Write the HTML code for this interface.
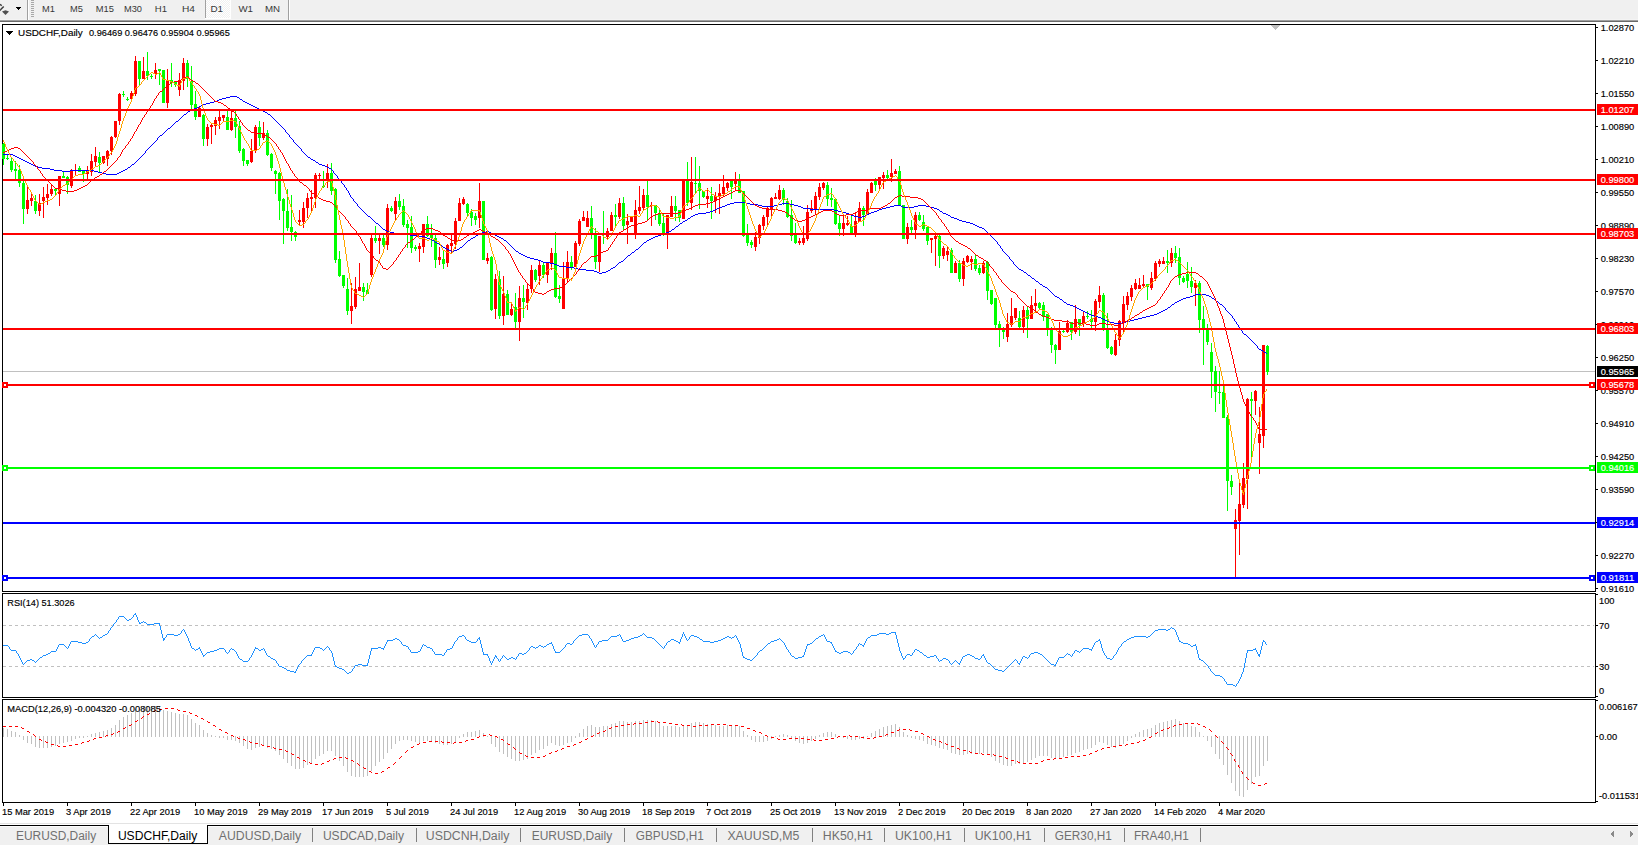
<!DOCTYPE html>
<html><head><meta charset="utf-8"><title>USDCHF,Daily</title>
<style>html,body{margin:0;padding:0;background:#fff;width:1638px;height:846px;overflow:hidden}svg{display:block;position:absolute;left:0;top:0}text{font-family:"Liberation Sans",sans-serif;white-space:pre;stroke-width:0.15px}text[fill="#000"]{stroke:#000}text[fill="#fff"]{stroke:#fff}</style></head>
<body>
<svg width="1638" height="846" viewBox="0 0 1638 846">
<rect x="0" y="0" width="1638" height="846" fill="#fff"/>
<g shape-rendering="crispEdges">
<rect x="0" y="0" width="1638" height="20" fill="#f0f0f0"/>
<rect x="0" y="19" width="1638" height="1" fill="#f4f4f4"/>
<rect x="0" y="20" width="1638" height="1" fill="#a0a0a0"/>
<rect x="0" y="21" width="1638" height="1" fill="#696969"/>
<rect x="27" y="0" width="1" height="20" fill="#a0a0a0"/><rect x="28" y="0" width="1" height="20" fill="#fff"/>
<rect x="31" y="0" width="3" height="1" fill="#a8a8a8"/>
<rect x="31" y="2" width="3" height="1" fill="#a8a8a8"/>
<rect x="31" y="4" width="3" height="1" fill="#a8a8a8"/>
<rect x="31" y="6" width="3" height="1" fill="#a8a8a8"/>
<rect x="31" y="8" width="3" height="1" fill="#a8a8a8"/>
<rect x="31" y="10" width="3" height="1" fill="#a8a8a8"/>
<rect x="31" y="12" width="3" height="1" fill="#a8a8a8"/>
<rect x="31" y="14" width="3" height="1" fill="#a8a8a8"/>
<rect x="31" y="16" width="3" height="1" fill="#a8a8a8"/>
<defs><pattern id="dz" width="2" height="2" patternUnits="userSpaceOnUse"><rect width="2" height="2" fill="#f0f0f0"/><rect width="1" height="1" fill="#fff"/><rect x="1" y="1" width="1" height="1" fill="#fff"/></pattern></defs>
<rect x="206" y="0" width="24" height="18" fill="url(#dz)"/><rect x="205" y="0" width="1" height="18" fill="#a0a0a0"/><rect x="230" y="0" width="1" height="19" fill="#fff"/><rect x="205" y="18" width="26" height="1" fill="#fff"/>
<rect x="288" y="0" width="1" height="20" fill="#a0a0a0"/><rect x="289" y="0" width="1" height="20" fill="#fff"/>
<path d="M16 7h5v1h-5zM17 8h3v1h-3zM18 9h1v1h-1z" fill="#000"/>
</g>
<path d="M-1 11.3 L3.7 6.5" stroke="#3a3a3a" stroke-width="1.5" fill="none"/><path d="M-0.2 4.2 L1.8 5.6" stroke="#3a3a3a" stroke-width="1.3" fill="none"/>
<path d="M2 11.5 L5.5 10.2 L9 11.5 L5.5 15 Z" fill="#505050"/>
<text x="42.1" y="12" font-size="9.6" fill="#383838" textLength="12.9" lengthAdjust="spacingAndGlyphs">M1</text>
<text x="70.10000000000001" y="12" font-size="9.6" fill="#383838" textLength="12.9" lengthAdjust="spacingAndGlyphs">M5</text>
<text x="95.80000000000001" y="12" font-size="9.6" fill="#383838" textLength="18.2" lengthAdjust="spacingAndGlyphs">M15</text>
<text x="124.0" y="12" font-size="9.6" fill="#383838" textLength="18.0" lengthAdjust="spacingAndGlyphs">M30</text>
<text x="154.8" y="12" font-size="9.6" fill="#383838" textLength="12.2" lengthAdjust="spacingAndGlyphs">H1</text>
<text x="182.0" y="12" font-size="9.6" fill="#383838" textLength="13.0" lengthAdjust="spacingAndGlyphs">H4</text>
<text x="210.4" y="12" font-size="9.6" fill="#383838" textLength="12.6" lengthAdjust="spacingAndGlyphs">D1</text>
<text x="238.4" y="12" font-size="9.6" fill="#383838" textLength="14.6" lengthAdjust="spacingAndGlyphs">W1</text>
<text x="264.9" y="12" font-size="9.6" fill="#383838" textLength="15.1" lengthAdjust="spacingAndGlyphs">MN</text>
<g shape-rendering="crispEdges" fill="#000">
<rect x="2" y="24" width="1" height="779"/>
<rect x="1595" y="24" width="1" height="779"/>
<rect x="2" y="24" width="1594" height="1"/>
<rect x="2" y="591" width="1594" height="1"/>
<rect x="2" y="592" width="1594" height="1" fill="#fff"/>
<rect x="2" y="593" width="1594" height="1"/>
<rect x="2" y="697" width="1594" height="1"/>
<rect x="2" y="698" width="1594" height="1" fill="#fff"/>
<rect x="2" y="699" width="1594" height="1"/>
<rect x="2" y="802" width="1594" height="1"/>
</g>
<path d="M1271 25h9v1h-9zM1272 26h7v1h-7zM1273 27h5v1h-5zM1274 28h3v1h-3zM1275 29h1v1h-1z" fill="#c0c0c0" shape-rendering="crispEdges"/>
<rect x="3" y="371" width="1592" height="1" fill="#c0c0c0" shape-rendering="crispEdges"/>
<g shape-rendering="crispEdges">
<path d="M27 185h1v29h-1zM26 200h3v9h-3zM31 194h1v12h-1zM30 198h3v3h-3zM39 194h1v22h-1zM38 203h3v8h-3zM43 187h1v31h-1zM42 197h3v4h-3zM47 184h1v21h-1zM46 194h3v4h-3zM51 185h1v11h-1zM50 189h3v5h-3zM59 176h1v30h-1zM58 176h3v18h-3zM71 169h1v19h-1zM70 170h3v16h-3zM75 164h1v11h-1zM74 170h3v1h-3zM87 166h1v13h-1zM86 171h3v3h-3zM91 154h1v22h-1zM90 161h3v11h-3zM95 147h1v19h-1zM94 156h3v6h-3zM103 156h1v8h-1zM102 156h3v7h-3zM107 150h1v16h-1zM106 151h3v8h-3zM111 136h1v19h-1zM110 137h3v14h-3zM115 121h1v17h-1zM114 121h3v16h-3zM119 93h1v32h-1zM118 94h3v27h-3zM131 91h1v8h-1zM130 93h3v6h-3zM135 56h1v40h-1zM134 61h3v33h-3zM143 57h1v22h-1zM142 71h3v8h-3zM155 63h1v16h-1zM154 70h3v4h-3zM167 69h1v39h-1zM166 81h3v22h-3zM179 73h1v23h-1zM178 80h3v10h-3zM183 58h1v32h-1zM182 63h3v18h-3zM199 107h1v10h-1zM198 108h3v9h-3zM207 124h1v22h-1zM206 127h3v12h-3zM211 124h1v20h-1zM210 125h3v2h-3zM215 117h1v18h-1zM214 120h3v6h-3zM219 110h1v19h-1zM218 117h3v4h-3zM223 115h1v6h-1zM222 115h3v3h-3zM231 110h1v21h-1zM230 118h3v12h-3zM251 139h1v24h-1zM250 151h3v11h-3zM255 125h1v28h-1zM254 127h3v24h-3zM263 122h1v18h-1zM262 133h3v5h-3zM299 210h1v15h-1zM298 220h3v2h-3zM303 202h1v26h-1zM302 208h3v14h-3zM307 193h1v25h-1zM306 198h3v10h-3zM311 190h1v21h-1zM310 197h3v2h-3zM315 173h1v35h-1zM314 175h3v23h-3zM319 173h1v6h-1zM318 175h3v1h-3zM327 164h1v24h-1zM326 173h3v8h-3zM351 283h1v41h-1zM350 306h3v5h-3zM355 277h1v32h-1zM354 289h3v18h-3zM359 263h1v28h-1zM358 287h3v4h-3zM371 234h1v43h-1zM370 238h3v37h-3zM379 235h1v19h-1zM378 238h3v3h-3zM387 204h1v46h-1zM386 208h3v37h-3zM395 197h1v23h-1zM394 201h3v13h-3zM419 243h1v19h-1zM418 246h3v3h-3zM423 224h1v29h-1zM422 224h3v23h-3zM439 247h1v18h-1zM438 257h3v3h-3zM447 244h1v23h-1zM446 245h3v18h-3zM451 235h1v18h-1zM450 243h3v3h-3zM455 218h1v31h-1zM454 221h3v23h-3zM459 198h1v23h-1zM458 203h3v18h-3zM463 197h1v8h-1zM462 199h3v5h-3zM479 183h1v45h-1zM478 201h3v17h-3zM487 253h1v11h-1zM486 258h3v3h-3zM495 274h1v45h-1zM494 279h3v30h-3zM503 276h1v49h-1zM502 294h3v22h-3zM511 304h1v12h-1zM510 309h3v6h-3zM519 286h1v55h-1zM518 298h3v24h-3zM527 283h1v27h-1zM526 289h3v14h-3zM531 265h1v28h-1zM530 270h3v19h-3zM539 260h1v25h-1zM538 265h3v11h-3zM547 262h1v21h-1zM546 262h3v13h-3zM551 248h1v22h-1zM550 253h3v10h-3zM563 262h1v47h-1zM562 279h3v30h-3zM567 251h1v32h-1zM566 262h3v17h-3zM575 241h1v26h-1zM574 243h3v24h-3zM579 219h1v27h-1zM578 221h3v23h-3zM583 211h1v10h-1zM582 217h3v4h-3zM587 211h1v16h-1zM586 218h3v9h-3zM599 236h1v36h-1zM598 236h3v26h-3zM607 228h1v12h-1zM606 231h3v6h-3zM611 212h1v19h-1zM610 215h3v16h-3zM619 198h1v21h-1zM618 203h3v14h-3zM627 214h1v30h-1zM626 221h3v4h-3zM631 216h1v6h-1zM630 216h3v6h-3zM635 200h1v39h-1zM634 210h3v24h-3zM639 186h1v28h-1zM638 207h3v4h-3zM643 189h1v21h-1zM642 195h3v13h-3zM651 202h1v24h-1zM650 205h3v1h-3zM667 215h1v34h-1zM666 215h3v17h-3zM671 196h1v21h-1zM670 206h3v11h-3zM683 180h1v39h-1zM682 180h3v39h-3zM691 157h1v53h-1zM690 182h3v21h-3zM707 188h1v20h-1zM706 196h3v3h-3zM715 192h1v21h-1zM714 196h3v5h-3zM719 184h1v30h-1zM718 193h3v3h-3zM723 175h1v21h-1zM722 187h3v7h-3zM727 182h1v9h-1zM726 183h3v5h-3zM735 172h1v18h-1zM734 180h3v4h-3zM755 232h1v19h-1zM754 237h3v10h-3zM759 224h1v20h-1zM758 225h3v13h-3zM763 215h1v15h-1zM762 217h3v9h-3zM767 207h1v19h-1zM766 208h3v9h-3zM771 197h1v19h-1zM770 198h3v11h-3zM775 193h1v6h-1zM774 197h3v2h-3zM779 185h1v15h-1zM778 190h3v9h-3zM799 238h1v7h-1zM798 241h3v2h-3zM803 226h1v19h-1zM802 238h3v5h-3zM807 205h1v36h-1zM806 212h3v27h-3zM811 200h1v13h-1zM810 208h3v3h-3zM815 192h1v22h-1zM814 196h3v13h-3zM819 183h1v17h-1zM818 187h3v10h-3zM823 182h1v8h-1zM822 183h3v5h-3zM843 216h1v20h-1zM842 223h3v6h-3zM847 216h1v10h-1zM846 223h3v2h-3zM855 212h1v25h-1zM854 221h3v12h-3zM859 202h1v20h-1zM858 208h3v14h-3zM867 189h1v26h-1zM866 192h3v22h-3zM871 182h1v11h-1zM870 183h3v10h-3zM879 177h1v12h-1zM878 177h3v8h-3zM883 172h1v17h-1zM882 175h3v3h-3zM891 159h1v23h-1zM890 173h3v4h-3zM895 169h1v5h-1zM894 171h3v3h-3zM907 223h1v21h-1zM906 227h3v12h-3zM915 212h1v27h-1zM914 215h3v15h-3zM931 238h1v15h-1zM930 238h3v2h-3zM935 233h1v33h-1zM934 236h3v3h-3zM943 246h1v13h-1zM942 248h3v8h-3zM947 247h1v14h-1zM946 251h3v4h-3zM955 261h1v12h-1zM954 263h3v10h-3zM963 258h1v28h-1zM962 261h3v18h-3zM967 255h1v8h-1zM966 256h3v6h-3zM971 256h1v14h-1zM970 259h3v3h-3zM983 261h1v13h-1zM982 263h3v10h-3zM1007 313h1v29h-1zM1006 324h3v13h-3zM1011 298h1v29h-1zM1010 316h3v9h-3zM1015 308h1v12h-1zM1014 308h3v10h-3zM1023 306h1v27h-1zM1022 310h3v17h-3zM1031 296h1v23h-1zM1030 305h3v14h-3zM1035 289h1v22h-1zM1034 303h3v3h-3zM1059 322h1v28h-1zM1058 331h3v19h-3zM1067 320h1v13h-1zM1066 323h3v9h-3zM1075 305h1v29h-1zM1074 319h3v13h-3zM1083 312h1v15h-1zM1082 316h3v7h-3zM1095 299h1v32h-1zM1094 301h3v21h-3zM1099 286h1v22h-1zM1098 295h3v7h-3zM1115 334h1v22h-1zM1114 340h3v15h-3zM1119 320h1v26h-1zM1118 321h3v19h-3zM1123 296h1v36h-1zM1122 304h3v19h-3zM1127 292h1v18h-1zM1126 296h3v9h-3zM1131 285h1v16h-1zM1130 288h3v9h-3zM1135 279h1v11h-1zM1134 283h3v6h-3zM1139 278h1v11h-1zM1138 285h3v4h-3zM1143 275h1v12h-1zM1142 284h3v2h-3zM1151 272h1v18h-1zM1150 278h3v10h-3zM1155 261h1v20h-1zM1154 263h3v16h-3zM1159 259h1v8h-1zM1158 261h3v3h-3zM1163 257h1v7h-1zM1162 261h3v3h-3zM1171 248h1v19h-1zM1170 253h3v10h-3zM1195 280h1v26h-1zM1194 283h3v5h-3zM1235 509h1v68h-1zM1234 520h3v9h-3zM1239 483h1v72h-1zM1238 504h3v17h-3zM1243 463h1v45h-1zM1242 478h3v27h-3zM1247 398h1v111h-1zM1246 399h3v80h-3zM1255 390h1v25h-1zM1254 391h3v10h-3zM1259 407h1v67h-1zM1258 434h3v9h-3zM1263 345h1v103h-1zM1262 345h3v91h-3z" fill="#ff0000"/>
<path d="M3 143h1v22h-1zM2 144h3v15h-3zM7 155h1v5h-1zM6 158h3v1h-3zM11 158h1v14h-1zM10 161h3v9h-3zM15 161h1v18h-1zM14 169h3v2h-3zM19 165h1v22h-1zM18 170h3v13h-3zM23 181h1v43h-1zM22 183h3v26h-3zM35 195h1v19h-1zM34 201h3v10h-3zM55 189h1v7h-1zM54 189h3v2h-3zM63 171h1v7h-1zM62 176h3v2h-3zM67 176h1v18h-1zM66 177h3v8h-3zM79 166h1v6h-1zM78 168h3v4h-3zM83 170h1v12h-1zM82 171h3v3h-3zM99 152h1v20h-1zM98 157h3v6h-3zM123 91h1v6h-1zM122 94h3v1h-3zM127 97h1v4h-1zM126 99h3v1h-3zM139 61h1v24h-1zM138 61h3v18h-3zM147 52h1v28h-1zM146 71h3v5h-3zM151 74h1v5h-1zM150 76h3v1h-3zM159 69h1v16h-1zM158 69h3v2h-3zM163 70h1v33h-1zM162 70h3v33h-3zM171 63h1v24h-1zM170 80h3v3h-3zM175 81h1v6h-1zM174 82h3v3h-3zM187 60h1v27h-1zM186 63h3v16h-3zM191 66h1v43h-1zM190 81h3v24h-3zM195 91h1v29h-1zM194 104h3v13h-3zM203 114h1v32h-1zM202 115h3v24h-3zM227 110h1v20h-1zM226 117h3v13h-3zM235 111h1v27h-1zM234 118h3v9h-3zM239 121h1v32h-1zM238 126h3v25h-3zM243 148h1v18h-1zM242 149h3v12h-3zM247 160h1v6h-1zM246 160h3v4h-3zM259 121h1v25h-1zM258 127h3v11h-3zM267 130h1v26h-1zM266 133h3v22h-3zM271 153h1v18h-1zM270 154h3v14h-3zM275 170h1v24h-1zM274 171h3v3h-3zM279 172h1v48h-1zM278 173h3v28h-3zM283 198h1v46h-1zM282 199h3v12h-3zM287 189h1v42h-1zM286 211h3v17h-3zM291 195h1v46h-1zM290 227h3v5h-3zM295 231h1v10h-1zM294 232h3v5h-3zM323 171h1v17h-1zM322 186h3v1h-3zM331 163h1v32h-1zM330 173h3v18h-3zM335 188h1v75h-1zM334 189h3v71h-3zM339 251h1v26h-1zM338 259h3v17h-3zM343 275h1v13h-1zM342 275h3v11h-3zM347 278h1v37h-1zM346 289h3v22h-3zM363 283h1v18h-1zM362 287h3v5h-3zM367 283h1v11h-1zM366 290h3v4h-3zM375 226h1v17h-1zM374 238h3v3h-3zM383 235h1v12h-1zM382 238h3v7h-3zM391 206h1v6h-1zM390 208h3v3h-3zM399 194h1v16h-1zM398 201h3v6h-3zM403 199h1v28h-1zM402 206h3v19h-3zM407 220h1v28h-1zM406 224h3v4h-3zM411 216h1v37h-1zM410 227h3v21h-3zM415 245h1v6h-1zM414 247h3v2h-3zM427 216h1v21h-1zM426 224h3v12h-3zM431 224h1v23h-1zM430 234h3v4h-3zM435 235h1v33h-1zM434 238h3v22h-3zM443 251h1v18h-1zM442 259h3v5h-3zM467 203h1v13h-1zM466 204h3v9h-3zM471 209h1v17h-1zM470 212h3v6h-3zM475 213h1v12h-1zM474 216h3v4h-3zM483 201h1v59h-1zM482 201h3v59h-3zM491 256h1v55h-1zM490 257h3v53h-3zM499 271h1v48h-1zM498 279h3v37h-3zM507 290h1v25h-1zM506 294h3v21h-3zM515 293h1v35h-1zM514 307h3v15h-3zM523 285h1v33h-1zM522 298h3v4h-3zM535 269h1v13h-1zM534 270h3v10h-3zM543 262h1v16h-1zM542 265h3v10h-3zM555 232h1v66h-1zM554 253h3v44h-3zM559 285h1v18h-1zM558 296h3v3h-3zM571 256h1v14h-1zM570 262h3v5h-3zM591 206h1v33h-1zM590 218h3v15h-3zM595 228h1v41h-1zM594 234h3v28h-3zM603 211h1v33h-1zM602 233h3v1h-3zM615 204h1v22h-1zM614 215h3v2h-3zM623 197h1v33h-1zM622 203h3v23h-3zM647 181h1v39h-1zM646 195h3v12h-3zM655 205h1v15h-1zM654 205h3v8h-3zM659 210h1v16h-1zM658 213h3v11h-3zM663 213h1v23h-1zM662 223h3v10h-3zM675 196h1v25h-1zM674 206h3v5h-3zM679 210h1v12h-1zM678 210h3v8h-3zM687 162h1v44h-1zM686 180h3v23h-3zM695 157h1v36h-1zM694 183h3v1h-3zM699 166h1v43h-1zM698 183h3v8h-3zM703 191h1v7h-1zM702 191h3v6h-3zM711 187h1v32h-1zM710 196h3v5h-3zM731 180h1v19h-1zM730 181h3v6h-3zM739 174h1v19h-1zM738 181h3v12h-3zM743 191h1v46h-1zM742 191h3v45h-3zM747 224h1v22h-1zM746 235h3v8h-3zM751 240h1v8h-1zM750 242h3v3h-3zM783 188h1v17h-1zM782 190h3v10h-3zM787 198h1v20h-1zM786 201h3v16h-3zM791 200h1v41h-1zM790 215h3v21h-3zM795 223h1v21h-1zM794 235h3v8h-3zM827 182h1v24h-1zM826 185h3v14h-3zM831 188h1v19h-1zM830 198h3v2h-3zM835 199h1v26h-1zM834 199h3v25h-3zM839 216h1v20h-1zM838 223h3v6h-3zM851 216h1v17h-1zM850 226h3v7h-3zM863 206h1v20h-1zM862 208h3v7h-3zM875 178h1v13h-1zM874 181h3v4h-3zM887 170h1v9h-1zM886 175h3v3h-3zM899 166h1v40h-1zM898 171h3v35h-3zM903 205h1v34h-1zM902 205h3v34h-3zM911 220h1v13h-1zM910 227h3v3h-3zM919 212h1v9h-1zM918 215h3v5h-3zM923 215h1v16h-1zM922 222h3v7h-3zM927 227h1v18h-1zM926 227h3v14h-3zM939 235h1v33h-1zM938 236h3v20h-3zM951 248h1v25h-1zM950 250h3v23h-3zM959 260h1v22h-1zM958 263h3v16h-3zM975 255h1v16h-1zM974 259h3v10h-3zM979 265h1v10h-1zM978 268h3v5h-3zM987 261h1v39h-1zM986 262h3v29h-3zM991 290h1v15h-1zM990 290h3v14h-3zM995 298h1v30h-1zM994 298h3v27h-3zM999 321h1v26h-1zM998 324h3v4h-3zM1003 327h1v12h-1zM1002 330h3v2h-3zM1019 311h1v17h-1zM1018 318h3v9h-3zM1027 306h1v32h-1zM1026 310h3v9h-3zM1039 302h1v7h-1zM1038 303h3v5h-3zM1043 302h1v19h-1zM1042 305h3v12h-3zM1047 314h1v22h-1zM1046 314h3v14h-3zM1051 327h1v26h-1zM1050 328h3v17h-3zM1055 344h1v20h-1zM1054 345h3v5h-3zM1063 330h1v3h-1zM1062 331h3v1h-3zM1071 322h1v18h-1zM1070 322h3v10h-3zM1079 319h1v17h-1zM1078 319h3v6h-3zM1087 311h1v8h-1zM1086 316h3v1h-3zM1091 310h1v18h-1zM1090 319h3v3h-3zM1103 293h1v38h-1zM1102 295h3v33h-3zM1107 313h1v36h-1zM1106 328h3v20h-3zM1111 346h1v9h-1zM1110 347h3v7h-3zM1147 284h1v16h-1zM1146 284h3v3h-3zM1167 250h1v23h-1zM1166 261h3v2h-3zM1175 246h1v17h-1zM1174 253h3v5h-3zM1179 248h1v37h-1zM1178 257h3v21h-3zM1183 276h1v7h-1zM1182 278h3v4h-3zM1187 262h1v26h-1zM1186 274h3v7h-3zM1191 267h1v26h-1zM1190 281h3v6h-3zM1199 281h1v52h-1zM1198 283h3v37h-3zM1203 306h1v59h-1zM1202 319h3v9h-3zM1207 324h1v21h-1zM1206 330h3v12h-3zM1211 343h1v55h-1zM1210 352h3v20h-3zM1215 366h1v46h-1zM1214 371h3v21h-3zM1219 371h1v33h-1zM1218 392h3v1h-3zM1223 386h1v32h-1zM1222 392h3v26h-3zM1227 415h1v96h-1zM1226 417h3v64h-3zM1231 475h1v20h-1zM1230 481h3v6h-3zM1251 392h1v65h-1zM1250 399h3v2h-3zM1267 345h1v30h-1zM1266 346h3v26h-3z" fill="#00ff00"/>
</g>
<path d="M230 96h7v1h-7zM226 97h4v1h-4zM237 97h2v1h-2zM222 98h4v1h-4zM239 98h1v1h-1zM219 99h3v1h-3zM240 99h2v1h-2zM217 100h2v1h-2zM242 100h1v1h-1zM214 101h3v1h-3zM243 101h2v1h-2zM210 102h4v1h-4zM245 102h2v1h-2zM206 103h4v1h-4zM247 103h2v1h-2zM203 104h3v1h-3zM249 104h2v1h-2zM201 105h2v1h-2zM251 105h2v1h-2zM199 106h2v1h-2zM253 106h2v1h-2zM197 107h2v1h-2zM255 107h2v1h-2zM194 108h3v1h-3zM257 108h2v1h-2zM191 109h3v1h-3zM259 109h2v1h-2zM190 110h1v1h-1zM261 110h2v1h-2zM188 111h2v1h-2zM263 111h2v1h-2zM187 112h1v1h-1zM265 112h2v1h-2zM186 113h1v1h-1zM267 113h1v1h-1zM184 114h2v1h-2zM268 114h2v1h-2zM183 115h1v1h-1zM270 115h1v1h-1zM182 116h1v1h-1zM271 116h1v1h-1zM181 117h1v1h-1zM272 117h1v1h-1zM180 118h1v1h-1zM273 118h1v1h-1zM179 119h1v1h-1zM274 119h1v1h-1zM178 120h1v1h-1zM275 120h1v1h-1zM176 121h2v1h-2zM276 121h1v1h-1zM175 122h1v1h-1zM277 122h1v1h-1zM174 123h1v1h-1zM278 123h1v1h-1zM173 124h1v1h-1zM279 124h1v1h-1zM172 125h1v1h-1zM280 125h1v1h-1zM171 126h1v1h-1zM281 126h1v1h-1zM170 127h1v1h-1zM282 127h1v1h-1zM168 128h2v1h-2zM283 128h1v1h-1zM167 129h1v1h-1zM284 129h1v1h-1zM166 130h1v1h-1zM285 130h1v2h-1zM165 131h1v1h-1zM164 132h1v1h-1zM286 132h1v1h-1zM163 133h1v1h-1zM287 133h1v1h-1zM162 134h1v1h-1zM288 134h1v1h-1zM160 135h2v1h-2zM289 135h1v2h-1zM159 136h1v1h-1zM158 137h1v1h-1zM290 137h1v1h-1zM157 138h1v2h-1zM291 138h1v1h-1zM292 139h1v1h-1zM156 140h1v1h-1zM293 140h1v2h-1zM155 141h1v1h-1zM154 142h1v1h-1zM294 142h1v1h-1zM153 143h1v1h-1zM295 143h1v1h-1zM152 144h1v1h-1zM296 144h1v1h-1zM151 145h1v1h-1zM297 145h1v1h-1zM150 146h1v1h-1zM298 146h1v1h-1zM149 147h1v1h-1zM299 147h1v1h-1zM148 148h1v1h-1zM300 148h1v1h-1zM147 149h1v1h-1zM301 149h1v2h-1zM146 150h1v1h-1zM145 151h1v2h-1zM302 151h1v1h-1zM303 152h1v1h-1zM144 153h1v1h-1zM304 153h1v1h-1zM3 154h10v1h-10zM143 154h1v1h-1zM305 154h1v1h-1zM13 155h2v1h-2zM142 155h1v1h-1zM306 155h1v1h-1zM15 156h2v1h-2zM141 156h1v1h-1zM307 156h1v1h-1zM17 157h2v1h-2zM140 157h1v1h-1zM308 157h2v1h-2zM19 158h2v1h-2zM139 158h1v1h-1zM310 158h1v1h-1zM21 159h2v1h-2zM138 159h1v1h-1zM311 159h2v1h-2zM23 160h2v1h-2zM137 160h1v1h-1zM313 160h2v1h-2zM25 161h2v1h-2zM136 161h1v1h-1zM315 161h1v1h-1zM27 162h2v1h-2zM135 162h1v1h-1zM316 162h2v1h-2zM29 163h2v1h-2zM134 163h1v1h-1zM318 163h1v1h-1zM31 164h2v1h-2zM132 164h2v1h-2zM319 164h3v1h-3zM33 165h2v1h-2zM131 165h1v1h-1zM322 165h3v1h-3zM35 166h3v1h-3zM130 166h1v1h-1zM325 166h2v1h-2zM38 167h4v1h-4zM128 167h2v1h-2zM327 167h2v1h-2zM42 168h8v1h-8zM127 168h1v1h-1zM329 168h2v1h-2zM50 169h4v1h-4zM125 169h2v1h-2zM331 169h1v1h-1zM54 170h8v1h-8zM70 170h24v1h-24zM123 170h2v1h-2zM332 170h1v1h-1zM62 171h8v1h-8zM94 171h4v1h-4zM121 171h2v1h-2zM333 171h1v2h-1zM98 172h4v1h-4zM119 172h2v1h-2zM102 173h4v1h-4zM117 173h2v1h-2zM334 173h1v1h-1zM106 174h11v1h-11zM335 174h1v1h-1zM336 175h1v1h-1zM337 176h1v2h-1zM338 178h1v1h-1zM339 179h1v1h-1zM340 180h1v1h-1zM341 181h1v2h-1zM342 183h1v1h-1zM343 184h1v1h-1zM344 185h1v2h-1zM345 187h1v1h-1zM346 188h1v2h-1zM347 190h1v1h-1zM348 191h1v2h-1zM349 193h1v2h-1zM350 195h1v2h-1zM351 197h1v1h-1zM352 198h1v1h-1zM353 199h1v2h-1zM354 201h1v1h-1zM355 202h1v1h-1zM734 202h12v1h-12zM356 203h1v1h-1zM730 203h4v1h-4zM746 203h4v1h-4zM782 203h8v1h-8zM357 204h1v2h-1zM727 204h3v1h-3zM750 204h8v1h-8zM778 204h4v1h-4zM790 204h4v1h-4zM725 205h2v1h-2zM758 205h4v1h-4zM774 205h4v1h-4zM794 205h4v1h-4zM894 205h7v1h-7zM918 205h8v1h-8zM358 206h1v1h-1zM722 206h3v1h-3zM762 206h12v1h-12zM798 206h3v1h-3zM890 206h4v1h-4zM901 206h2v1h-2zM914 206h4v1h-4zM926 206h4v1h-4zM359 207h1v1h-1zM719 207h3v1h-3zM801 207h2v1h-2zM886 207h4v1h-4zM903 207h11v1h-11zM930 207h4v1h-4zM360 208h1v1h-1zM717 208h2v1h-2zM803 208h7v1h-7zM882 208h4v1h-4zM934 208h3v1h-3zM361 209h1v1h-1zM715 209h2v1h-2zM810 209h24v1h-24zM879 209h3v1h-3zM937 209h2v1h-2zM362 210h1v1h-1zM713 210h2v1h-2zM834 210h4v1h-4zM877 210h2v1h-2zM939 210h1v1h-1zM363 211h1v1h-1zM710 211h3v1h-3zM838 211h4v1h-4zM874 211h3v1h-3zM940 211h2v1h-2zM364 212h1v1h-1zM706 212h4v1h-4zM842 212h4v1h-4zM871 212h3v1h-3zM942 212h1v1h-1zM365 213h1v1h-1zM698 213h8v1h-8zM846 213h3v1h-3zM869 213h2v1h-2zM943 213h3v1h-3zM366 214h1v1h-1zM695 214h3v1h-3zM849 214h2v1h-2zM867 214h2v1h-2zM946 214h2v1h-2zM367 215h1v1h-1zM693 215h2v1h-2zM851 215h3v1h-3zM865 215h2v1h-2zM948 215h2v1h-2zM368 216h2v1h-2zM691 216h2v1h-2zM854 216h4v1h-4zM862 216h3v1h-3zM950 216h1v1h-1zM370 217h1v1h-1zM690 217h1v1h-1zM858 217h4v1h-4zM951 217h3v1h-3zM371 218h1v1h-1zM688 218h2v1h-2zM954 218h3v1h-3zM372 219h1v1h-1zM687 219h1v1h-1zM957 219h2v1h-2zM373 220h1v1h-1zM685 220h2v1h-2zM959 220h3v1h-3zM374 221h1v1h-1zM683 221h2v1h-2zM962 221h4v1h-4zM375 222h1v1h-1zM682 222h1v1h-1zM966 222h4v1h-4zM376 223h2v1h-2zM680 223h2v1h-2zM970 223h3v1h-3zM378 224h1v1h-1zM679 224h1v1h-1zM973 224h2v1h-2zM379 225h1v1h-1zM678 225h1v1h-1zM975 225h2v1h-2zM380 226h1v1h-1zM676 226h2v1h-2zM977 226h2v1h-2zM381 227h1v1h-1zM675 227h1v1h-1zM979 227h3v1h-3zM382 228h1v1h-1zM674 228h1v1h-1zM982 228h2v1h-2zM383 229h2v1h-2zM672 229h2v1h-2zM984 229h1v1h-1zM385 230h2v1h-2zM671 230h1v1h-1zM985 230h1v1h-1zM387 231h3v1h-3zM486 231h3v1h-3zM669 231h2v1h-2zM986 231h1v1h-1zM390 232h4v1h-4zM482 232h4v1h-4zM489 232h2v1h-2zM666 232h3v1h-3zM987 232h1v1h-1zM394 233h4v1h-4zM479 233h3v1h-3zM491 233h2v1h-2zM663 233h3v1h-3zM988 233h1v1h-1zM398 234h12v1h-12zM478 234h1v1h-1zM493 234h2v1h-2zM661 234h2v1h-2zM989 234h1v1h-1zM410 235h8v1h-8zM476 235h2v1h-2zM495 235h2v1h-2zM658 235h3v1h-3zM990 235h1v1h-1zM418 236h7v1h-7zM475 236h1v1h-1zM497 236h2v1h-2zM655 236h3v1h-3zM991 236h1v1h-1zM425 237h2v1h-2zM473 237h2v1h-2zM499 237h2v1h-2zM653 237h2v1h-2zM992 237h1v1h-1zM427 238h3v1h-3zM471 238h2v1h-2zM501 238h2v1h-2zM651 238h2v1h-2zM993 238h1v1h-1zM430 239h2v1h-2zM470 239h1v1h-1zM503 239h1v1h-1zM649 239h2v1h-2zM994 239h1v1h-1zM432 240h2v1h-2zM468 240h2v1h-2zM504 240h2v1h-2zM647 240h2v1h-2zM995 240h1v1h-1zM434 241h1v1h-1zM467 241h1v1h-1zM506 241h1v1h-1zM646 241h1v1h-1zM996 241h1v1h-1zM435 242h2v1h-2zM466 242h1v1h-1zM507 242h1v1h-1zM644 242h2v1h-2zM997 242h1v2h-1zM437 243h2v1h-2zM465 243h1v1h-1zM508 243h1v1h-1zM643 243h1v1h-1zM439 244h1v1h-1zM464 244h1v1h-1zM509 244h1v1h-1zM642 244h1v1h-1zM998 244h1v1h-1zM440 245h2v1h-2zM463 245h1v1h-1zM510 245h1v1h-1zM641 245h1v1h-1zM999 245h1v1h-1zM442 246h1v1h-1zM462 246h1v1h-1zM511 246h1v1h-1zM640 246h1v1h-1zM1000 246h1v2h-1zM443 247h2v1h-2zM460 247h2v1h-2zM512 247h1v1h-1zM639 247h1v1h-1zM445 248h2v1h-2zM459 248h1v1h-1zM513 248h1v1h-1zM638 248h1v1h-1zM1001 248h1v1h-1zM447 249h2v1h-2zM457 249h2v1h-2zM514 249h1v1h-1zM636 249h2v1h-2zM1002 249h1v2h-1zM449 250h2v1h-2zM454 250h3v1h-3zM515 250h1v1h-1zM635 250h1v1h-1zM451 251h3v1h-3zM516 251h2v1h-2zM634 251h1v1h-1zM1003 251h1v1h-1zM518 252h1v1h-1zM632 252h2v1h-2zM1004 252h1v1h-1zM519 253h2v1h-2zM631 253h1v1h-1zM1005 253h1v1h-1zM521 254h2v1h-2zM630 254h1v1h-1zM1006 254h1v1h-1zM523 255h2v1h-2zM628 255h2v1h-2zM1007 255h1v1h-1zM525 256h2v1h-2zM627 256h1v1h-1zM1008 256h1v1h-1zM527 257h3v1h-3zM626 257h1v1h-1zM1009 257h1v2h-1zM530 258h4v1h-4zM625 258h1v1h-1zM534 259h4v1h-4zM624 259h1v1h-1zM1010 259h1v1h-1zM538 260h3v1h-3zM623 260h1v1h-1zM1011 260h1v1h-1zM541 261h2v1h-2zM621 261h2v1h-2zM1012 261h1v1h-1zM543 262h7v1h-7zM619 262h2v1h-2zM1013 262h1v2h-1zM550 263h4v1h-4zM618 263h1v1h-1zM554 264h3v1h-3zM617 264h1v1h-1zM1014 264h1v1h-1zM557 265h2v1h-2zM616 265h1v1h-1zM1015 265h1v1h-1zM559 266h7v1h-7zM615 266h1v1h-1zM1016 266h1v1h-1zM566 267h8v1h-8zM613 267h2v1h-2zM1017 267h1v1h-1zM574 268h4v1h-4zM611 268h2v1h-2zM1018 268h1v1h-1zM578 269h8v1h-8zM610 269h1v1h-1zM1019 269h2v1h-2zM586 270h8v1h-8zM608 270h2v1h-2zM1021 270h2v1h-2zM594 271h3v1h-3zM606 271h2v1h-2zM1023 271h1v1h-1zM597 272h2v1h-2zM602 272h4v1h-4zM1024 272h2v1h-2zM599 273h3v1h-3zM1026 273h1v1h-1zM1027 274h1v1h-1zM1028 275h2v1h-2zM1030 276h1v1h-1zM1031 277h1v1h-1zM1032 278h2v1h-2zM1034 279h1v1h-1zM1035 280h1v1h-1zM1036 281h2v1h-2zM1038 282h1v1h-1zM1039 283h1v1h-1zM1040 284h2v1h-2zM1042 285h1v1h-1zM1043 286h2v1h-2zM1045 287h2v1h-2zM1047 288h1v1h-1zM1048 289h1v1h-1zM1049 290h1v1h-1zM1050 291h1v1h-1zM1051 292h1v1h-1zM1052 293h1v1h-1zM1053 294h1v1h-1zM1195 294h11v1h-11zM1054 295h1v1h-1zM1193 295h2v1h-2zM1206 295h3v1h-3zM1055 296h2v1h-2zM1190 296h3v1h-3zM1209 296h2v1h-2zM1057 297h2v1h-2zM1186 297h4v1h-4zM1211 297h1v1h-1zM1059 298h1v1h-1zM1183 298h3v1h-3zM1212 298h2v1h-2zM1060 299h2v1h-2zM1181 299h2v1h-2zM1214 299h1v1h-1zM1062 300h1v1h-1zM1179 300h2v1h-2zM1215 300h1v1h-1zM1063 301h1v1h-1zM1177 301h2v1h-2zM1216 301h2v1h-2zM1064 302h2v1h-2zM1175 302h2v1h-2zM1218 302h1v1h-1zM1066 303h1v1h-1zM1174 303h1v1h-1zM1219 303h1v1h-1zM1067 304h3v1h-3zM1172 304h2v1h-2zM1220 304h2v1h-2zM1070 305h3v1h-3zM1171 305h1v1h-1zM1222 305h1v1h-1zM1073 306h2v1h-2zM1170 306h1v1h-1zM1223 306h1v1h-1zM1075 307h2v1h-2zM1168 307h2v1h-2zM1224 307h1v1h-1zM1077 308h2v1h-2zM1167 308h1v1h-1zM1225 308h1v2h-1zM1079 309h2v1h-2zM1165 309h2v1h-2zM1081 310h2v1h-2zM1163 310h2v1h-2zM1226 310h1v1h-1zM1083 311h2v1h-2zM1161 311h2v1h-2zM1227 311h1v1h-1zM1085 312h2v1h-2zM1159 312h2v1h-2zM1228 312h1v1h-1zM1087 313h2v1h-2zM1157 313h2v1h-2zM1229 313h1v1h-1zM1089 314h2v1h-2zM1154 314h3v1h-3zM1230 314h1v1h-1zM1091 315h3v1h-3zM1150 315h4v1h-4zM1231 315h1v1h-1zM1094 316h4v1h-4zM1146 316h4v1h-4zM1232 316h1v2h-1zM1098 317h3v1h-3zM1142 317h4v1h-4zM1101 318h2v1h-2zM1138 318h4v1h-4zM1233 318h1v1h-1zM1103 319h2v1h-2zM1134 319h4v1h-4zM1234 319h1v2h-1zM1105 320h2v1h-2zM1130 320h4v1h-4zM1107 321h3v1h-3zM1126 321h4v1h-4zM1235 321h1v1h-1zM1110 322h4v1h-4zM1122 322h4v1h-4zM1236 322h1v2h-1zM1114 323h8v1h-8zM1237 324h1v1h-1zM1238 325h1v2h-1zM1239 327h1v1h-1zM1240 328h1v2h-1zM1241 330h1v1h-1zM1242 331h1v2h-1zM1243 333h1v1h-1zM1244 334h2v1h-2zM1246 335h1v1h-1zM1247 336h1v1h-1zM1248 337h1v1h-1zM1249 338h1v1h-1zM1250 339h1v1h-1zM1251 340h1v1h-1zM1252 341h1v1h-1zM1253 342h1v1h-1zM1254 343h1v1h-1zM1255 344h1v1h-1zM1256 345h1v1h-1zM1257 346h1v2h-1zM1258 348h1v1h-1zM1259 349h2v1h-2zM1261 350h2v1h-2zM1263 351h1v1h-1zM1264 352h2v1h-2zM1266 353h1v1h-1z" fill="#0000ff" shape-rendering="crispEdges"/>
<path d="M187 76h1v1h-1zM185 77h2v1h-2zM188 77h1v1h-1zM183 78h2v1h-2zM189 78h1v1h-1zM181 79h2v1h-2zM190 79h1v1h-1zM178 80h3v1h-3zM191 80h2v1h-2zM174 81h4v1h-4zM193 81h2v1h-2zM171 82h3v1h-3zM195 82h1v1h-1zM170 83h1v1h-1zM196 83h2v1h-2zM168 84h2v1h-2zM198 84h1v1h-1zM167 85h1v1h-1zM199 85h1v1h-1zM166 86h1v1h-1zM200 86h1v1h-1zM165 87h1v1h-1zM201 87h1v1h-1zM164 88h1v1h-1zM202 88h1v1h-1zM163 89h1v1h-1zM203 89h1v1h-1zM162 90h1v1h-1zM204 90h1v1h-1zM160 91h2v1h-2zM205 91h1v1h-1zM159 92h1v1h-1zM206 92h1v1h-1zM158 93h1v2h-1zM207 93h1v1h-1zM208 94h1v1h-1zM157 95h1v1h-1zM209 95h1v1h-1zM156 96h1v2h-1zM210 96h1v1h-1zM211 97h1v1h-1zM155 98h1v1h-1zM212 98h1v1h-1zM154 99h1v2h-1zM213 99h1v1h-1zM214 100h1v1h-1zM153 101h1v2h-1zM215 101h3v1h-3zM218 102h3v1h-3zM152 103h1v2h-1zM221 103h2v1h-2zM223 104h1v1h-1zM151 105h1v1h-1zM224 105h2v1h-2zM150 106h1v2h-1zM226 106h1v1h-1zM227 107h1v1h-1zM149 108h1v1h-1zM228 108h2v1h-2zM148 109h1v2h-1zM230 109h1v1h-1zM231 110h1v1h-1zM147 111h1v1h-1zM232 111h2v1h-2zM146 112h1v2h-1zM234 112h1v1h-1zM235 113h1v1h-1zM145 114h1v1h-1zM236 114h1v2h-1zM144 115h1v2h-1zM237 116h1v1h-1zM143 117h1v1h-1zM238 117h1v2h-1zM142 118h1v2h-1zM239 119h1v1h-1zM141 120h1v2h-1zM240 120h1v2h-1zM140 122h1v2h-1zM241 122h1v1h-1zM242 123h1v2h-1zM139 124h1v1h-1zM138 125h1v2h-1zM243 125h1v1h-1zM244 126h1v1h-1zM137 127h1v2h-1zM245 127h1v1h-1zM246 128h1v1h-1zM136 129h1v2h-1zM247 129h1v1h-1zM248 130h2v1h-2zM135 131h1v1h-1zM250 131h1v1h-1zM134 132h1v2h-1zM251 132h3v1h-3zM254 133h8v1h-8zM133 134h1v2h-1zM262 134h3v1h-3zM265 135h2v1h-2zM132 136h1v2h-1zM267 136h1v1h-1zM268 137h2v1h-2zM131 138h1v1h-1zM270 138h1v1h-1zM130 139h1v2h-1zM271 139h1v1h-1zM272 140h1v1h-1zM129 141h1v1h-1zM273 141h1v1h-1zM128 142h1v2h-1zM274 142h1v1h-1zM275 143h1v1h-1zM127 144h1v1h-1zM276 144h1v2h-1zM126 145h1v1h-1zM125 146h1v2h-1zM277 146h1v1h-1zM14 147h4v1h-4zM278 147h1v2h-1zM11 148h3v1h-3zM18 148h2v1h-2zM124 148h1v1h-1zM9 149h2v1h-2zM20 149h1v1h-1zM123 149h1v1h-1zM279 149h1v1h-1zM7 150h2v1h-2zM21 150h1v1h-1zM122 150h1v2h-1zM280 150h1v2h-1zM5 151h2v1h-2zM22 151h1v1h-1zM3 152h2v1h-2zM23 152h1v1h-1zM121 152h1v2h-1zM281 152h1v1h-1zM24 153h1v1h-1zM282 153h1v2h-1zM25 154h1v1h-1zM120 154h1v2h-1zM26 155h1v1h-1zM283 155h1v2h-1zM27 156h1v1h-1zM119 156h1v1h-1zM28 157h1v1h-1zM118 157h1v1h-1zM284 157h1v2h-1zM29 158h1v1h-1zM117 158h1v2h-1zM30 159h1v1h-1zM285 159h1v2h-1zM31 160h1v1h-1zM116 160h1v1h-1zM32 161h1v1h-1zM115 161h1v1h-1zM286 161h1v2h-1zM33 162h1v2h-1zM114 162h1v1h-1zM113 163h1v1h-1zM287 163h1v1h-1zM34 164h1v1h-1zM112 164h1v1h-1zM288 164h1v2h-1zM35 165h1v1h-1zM111 165h1v1h-1zM36 166h1v1h-1zM110 166h1v1h-1zM289 166h1v2h-1zM37 167h1v2h-1zM109 167h1v1h-1zM108 168h1v1h-1zM290 168h1v2h-1zM38 169h1v1h-1zM107 169h1v1h-1zM39 170h1v1h-1zM106 170h1v1h-1zM291 170h1v1h-1zM40 171h1v2h-1zM104 171h2v1h-2zM292 171h1v2h-1zM103 172h1v1h-1zM41 173h1v1h-1zM102 173h1v1h-1zM293 173h1v1h-1zM42 174h1v2h-1zM100 174h2v1h-2zM294 174h1v2h-1zM99 175h1v1h-1zM43 176h1v1h-1zM97 176h2v1h-2zM295 176h1v1h-1zM44 177h1v1h-1zM95 177h2v1h-2zM296 177h1v1h-1zM45 178h1v1h-1zM94 178h1v1h-1zM297 178h1v2h-1zM46 179h1v1h-1zM92 179h2v1h-2zM47 180h1v1h-1zM91 180h1v1h-1zM298 180h1v1h-1zM48 181h1v1h-1zM90 181h1v1h-1zM299 181h1v1h-1zM49 182h1v1h-1zM89 182h1v1h-1zM300 182h2v1h-2zM50 183h1v1h-1zM88 183h1v1h-1zM302 183h1v1h-1zM51 184h1v1h-1zM87 184h1v1h-1zM303 184h1v1h-1zM52 185h1v1h-1zM85 185h2v1h-2zM304 185h2v1h-2zM53 186h1v1h-1zM83 186h2v1h-2zM306 186h1v1h-1zM54 187h1v1h-1zM81 187h2v1h-2zM307 187h1v1h-1zM55 188h3v1h-3zM79 188h2v1h-2zM308 188h1v1h-1zM58 189h4v1h-4zM77 189h2v1h-2zM309 189h1v2h-1zM62 190h4v1h-4zM74 190h3v1h-3zM735 190h5v1h-5zM66 191h8v1h-8zM310 191h1v1h-1zM733 191h2v1h-2zM740 191h2v1h-2zM311 192h1v1h-1zM731 192h2v1h-2zM742 192h1v1h-1zM312 193h2v1h-2zM729 193h2v1h-2zM743 193h1v1h-1zM314 194h1v1h-1zM727 194h2v1h-2zM744 194h1v1h-1zM315 195h1v1h-1zM725 195h2v1h-2zM745 195h1v1h-1zM899 195h3v1h-3zM316 196h2v1h-2zM723 196h2v1h-2zM746 196h1v1h-1zM897 196h2v1h-2zM902 196h8v1h-8zM318 197h1v1h-1zM721 197h2v1h-2zM747 197h1v1h-1zM895 197h2v1h-2zM910 197h8v1h-8zM319 198h2v1h-2zM719 198h2v1h-2zM748 198h1v1h-1zM894 198h1v1h-1zM918 198h3v1h-3zM321 199h2v1h-2zM717 199h2v1h-2zM749 199h1v1h-1zM893 199h1v1h-1zM921 199h2v1h-2zM323 200h3v1h-3zM715 200h2v1h-2zM750 200h1v1h-1zM892 200h1v1h-1zM923 200h1v1h-1zM326 201h4v1h-4zM713 201h2v1h-2zM751 201h1v1h-1zM891 201h1v1h-1zM924 201h1v1h-1zM330 202h2v1h-2zM710 202h3v1h-3zM752 202h1v1h-1zM890 202h1v1h-1zM925 202h1v1h-1zM332 203h1v1h-1zM706 203h4v1h-4zM753 203h1v1h-1zM888 203h2v1h-2zM926 203h1v1h-1zM333 204h1v1h-1zM698 204h8v1h-8zM754 204h1v1h-1zM887 204h1v1h-1zM927 204h1v1h-1zM334 205h1v1h-1zM695 205h3v1h-3zM755 205h2v1h-2zM885 205h2v1h-2zM928 205h1v1h-1zM335 206h1v1h-1zM693 206h2v1h-2zM757 206h2v1h-2zM883 206h2v1h-2zM929 206h1v1h-1zM336 207h1v1h-1zM691 207h2v1h-2zM759 207h3v1h-3zM881 207h2v1h-2zM930 207h1v1h-1zM337 208h1v2h-1zM689 208h2v1h-2zM762 208h4v1h-4zM870 208h11v1h-11zM931 208h1v1h-1zM686 209h3v1h-3zM766 209h12v1h-12zM866 209h4v1h-4zM932 209h1v1h-1zM338 210h1v1h-1zM683 210h3v1h-3zM778 210h4v1h-4zM823 210h9v1h-9zM859 210h7v1h-7zM933 210h1v1h-1zM339 211h1v1h-1zM681 211h2v1h-2zM782 211h3v1h-3zM821 211h2v1h-2zM832 211h2v1h-2zM857 211h2v1h-2zM934 211h1v1h-1zM340 212h1v1h-1zM678 212h3v1h-3zM785 212h2v1h-2zM819 212h2v1h-2zM834 212h1v1h-1zM855 212h2v1h-2zM935 212h1v1h-1zM341 213h1v1h-1zM658 213h20v1h-20zM787 213h1v1h-1zM817 213h2v1h-2zM835 213h2v1h-2zM853 213h2v1h-2zM936 213h1v2h-1zM342 214h1v1h-1zM655 214h3v1h-3zM788 214h1v1h-1zM815 214h2v1h-2zM837 214h2v1h-2zM846 214h7v1h-7zM343 215h1v1h-1zM653 215h2v1h-2zM789 215h1v1h-1zM813 215h2v1h-2zM839 215h7v1h-7zM937 215h1v1h-1zM344 216h1v1h-1zM651 216h2v1h-2zM790 216h1v1h-1zM811 216h2v1h-2zM938 216h1v2h-1zM345 217h1v2h-1zM650 217h1v1h-1zM791 217h1v1h-1zM809 217h2v1h-2zM649 218h1v1h-1zM792 218h2v1h-2zM807 218h2v1h-2zM939 218h1v1h-1zM346 219h1v1h-1zM648 219h1v1h-1zM794 219h1v1h-1zM805 219h2v1h-2zM940 219h1v1h-1zM347 220h1v1h-1zM647 220h1v1h-1zM795 220h3v1h-3zM802 220h3v1h-3zM941 220h1v2h-1zM348 221h1v2h-1zM645 221h2v1h-2zM798 221h4v1h-4zM642 222h3v1h-3zM942 222h1v1h-1zM349 223h1v1h-1zM638 223h4v1h-4zM943 223h1v1h-1zM350 224h1v2h-1zM634 224h4v1h-4zM944 224h1v2h-1zM631 225h3v1h-3zM351 226h1v1h-1zM629 226h2v1h-2zM945 226h1v1h-1zM352 227h1v1h-1zM627 227h2v1h-2zM946 227h1v2h-1zM353 228h1v1h-1zM426 228h7v1h-7zM626 228h1v1h-1zM354 229h1v1h-1zM423 229h3v1h-3zM433 229h2v1h-2zM479 229h2v1h-2zM624 229h2v1h-2zM947 229h1v1h-1zM355 230h1v1h-1zM422 230h1v1h-1zM435 230h3v1h-3zM477 230h2v1h-2zM481 230h2v1h-2zM623 230h1v1h-1zM948 230h1v2h-1zM356 231h1v2h-1zM421 231h1v2h-1zM438 231h2v1h-2zM475 231h2v1h-2zM483 231h2v1h-2zM621 231h2v1h-2zM440 232h1v1h-1zM473 232h2v1h-2zM485 232h2v1h-2zM619 232h2v1h-2zM949 232h1v2h-1zM357 233h1v1h-1zM420 233h1v1h-1zM441 233h1v1h-1zM471 233h2v1h-2zM487 233h1v1h-1zM618 233h1v2h-1zM358 234h1v2h-1zM419 234h1v1h-1zM442 234h1v1h-1zM469 234h2v1h-2zM488 234h2v1h-2zM950 234h1v2h-1zM418 235h1v1h-1zM443 235h2v1h-2zM467 235h2v1h-2zM490 235h1v1h-1zM617 235h1v1h-1zM359 236h1v1h-1zM416 236h2v1h-2zM445 236h2v1h-2zM466 236h1v1h-1zM491 236h2v1h-2zM616 236h1v2h-1zM951 236h1v1h-1zM360 237h1v2h-1zM415 237h1v1h-1zM447 237h1v1h-1zM464 237h2v1h-2zM493 237h2v1h-2zM952 237h1v1h-1zM414 238h1v1h-1zM448 238h2v1h-2zM463 238h1v1h-1zM495 238h1v1h-1zM615 238h1v1h-1zM953 238h1v1h-1zM361 239h1v2h-1zM412 239h2v1h-2zM450 239h1v1h-1zM461 239h2v1h-2zM496 239h2v1h-2zM614 239h1v2h-1zM954 239h1v1h-1zM411 240h1v1h-1zM451 240h3v1h-3zM458 240h3v1h-3zM498 240h1v1h-1zM955 240h1v1h-1zM362 241h1v2h-1zM410 241h1v1h-1zM454 241h4v1h-4zM499 241h1v1h-1zM613 241h1v1h-1zM956 241h2v1h-2zM408 242h2v1h-2zM500 242h1v1h-1zM612 242h1v2h-1zM958 242h1v1h-1zM363 243h1v1h-1zM407 243h1v1h-1zM501 243h1v1h-1zM959 243h2v1h-2zM364 244h1v2h-1zM406 244h1v1h-1zM502 244h1v1h-1zM611 244h1v1h-1zM961 244h2v1h-2zM405 245h1v2h-1zM503 245h1v1h-1zM610 245h1v2h-1zM963 245h2v1h-2zM365 246h1v2h-1zM504 246h1v1h-1zM965 246h2v1h-2zM404 247h1v1h-1zM505 247h1v2h-1zM609 247h1v1h-1zM967 247h1v1h-1zM366 248h1v2h-1zM403 248h1v1h-1zM608 248h1v2h-1zM968 248h2v1h-2zM402 249h1v2h-1zM506 249h1v1h-1zM970 249h1v1h-1zM367 250h1v1h-1zM507 250h1v1h-1zM606 250h2v1h-2zM971 250h1v1h-1zM368 251h1v1h-1zM401 251h1v1h-1zM508 251h1v2h-1zM603 251h3v1h-3zM972 251h1v1h-1zM369 252h1v1h-1zM400 252h1v2h-1zM601 252h2v1h-2zM973 252h1v1h-1zM370 253h1v1h-1zM509 253h1v1h-1zM599 253h2v1h-2zM974 253h1v1h-1zM371 254h1v1h-1zM399 254h1v1h-1zM510 254h1v2h-1zM598 254h1v1h-1zM975 254h1v1h-1zM372 255h1v1h-1zM398 255h1v2h-1zM596 255h2v1h-2zM976 255h2v1h-2zM373 256h1v2h-1zM511 256h1v2h-1zM591 256h5v1h-5zM978 256h1v1h-1zM397 257h1v1h-1zM590 257h1v1h-1zM979 257h2v1h-2zM374 258h1v1h-1zM396 258h1v2h-1zM512 258h1v2h-1zM589 258h1v1h-1zM981 258h2v1h-2zM375 259h1v1h-1zM588 259h1v1h-1zM983 259h1v1h-1zM376 260h2v1h-2zM395 260h1v1h-1zM513 260h1v2h-1zM587 260h1v1h-1zM984 260h2v1h-2zM378 261h1v1h-1zM394 261h1v1h-1zM586 261h1v1h-1zM986 261h1v1h-1zM379 262h1v1h-1zM393 262h1v2h-1zM514 262h1v2h-1zM584 262h2v1h-2zM987 262h1v1h-1zM380 263h1v2h-1zM583 263h1v1h-1zM988 263h1v1h-1zM392 264h1v1h-1zM515 264h1v2h-1zM582 264h1v1h-1zM989 264h1v2h-1zM381 265h1v1h-1zM391 265h1v1h-1zM581 265h1v2h-1zM382 266h1v2h-1zM390 266h1v1h-1zM516 266h1v2h-1zM990 266h1v1h-1zM389 267h1v1h-1zM580 267h1v1h-1zM991 267h1v1h-1zM383 268h3v1h-3zM388 268h1v1h-1zM517 268h1v2h-1zM579 268h1v1h-1zM992 268h1v1h-1zM386 269h2v1h-2zM578 269h1v2h-1zM993 269h1v2h-1zM518 270h1v2h-1zM577 271h1v1h-1zM994 271h1v1h-1zM519 272h1v1h-1zM576 272h1v2h-1zM995 272h1v1h-1zM1186 272h10v1h-10zM520 273h1v2h-1zM996 273h1v2h-1zM1182 273h4v1h-4zM1196 273h2v1h-2zM575 274h1v1h-1zM1179 274h3v1h-3zM1198 274h1v1h-1zM521 275h1v1h-1zM574 275h1v1h-1zM997 275h1v1h-1zM1177 275h2v1h-2zM1199 275h1v1h-1zM522 276h1v2h-1zM573 276h1v1h-1zM998 276h1v2h-1zM1175 276h2v1h-2zM1200 276h2v1h-2zM572 277h1v1h-1zM1174 277h1v1h-1zM1202 277h1v1h-1zM523 278h1v1h-1zM571 278h1v1h-1zM999 278h1v1h-1zM1173 278h1v1h-1zM1203 278h1v1h-1zM524 279h1v1h-1zM570 279h1v1h-1zM1000 279h1v1h-1zM1172 279h1v1h-1zM1204 279h1v1h-1zM525 280h1v2h-1zM569 280h1v1h-1zM1001 280h1v2h-1zM1171 280h1v1h-1zM1205 280h1v1h-1zM568 281h1v1h-1zM1170 281h1v2h-1zM1206 281h1v1h-1zM526 282h1v1h-1zM567 282h1v1h-1zM1002 282h1v1h-1zM1207 282h1v2h-1zM527 283h1v1h-1zM566 283h1v1h-1zM1003 283h1v1h-1zM1169 283h1v2h-1zM528 284h1v1h-1zM564 284h2v1h-2zM1004 284h1v1h-1zM1208 284h1v2h-1zM529 285h1v1h-1zM563 285h1v1h-1zM1005 285h1v1h-1zM1168 285h1v2h-1zM530 286h1v1h-1zM562 286h1v1h-1zM1006 286h1v1h-1zM1209 286h1v2h-1zM531 287h1v1h-1zM560 287h2v1h-2zM1007 287h1v1h-1zM1167 287h1v1h-1zM532 288h1v1h-1zM554 288h6v1h-6zM1008 288h1v1h-1zM1166 288h1v2h-1zM1210 288h1v2h-1zM533 289h1v2h-1zM551 289h3v1h-3zM1009 289h1v1h-1zM549 290h2v1h-2zM1010 290h1v1h-1zM1165 290h1v1h-1zM1211 290h1v2h-1zM534 291h1v1h-1zM547 291h2v1h-2zM1011 291h2v1h-2zM1164 291h1v2h-1zM535 292h3v1h-3zM546 292h1v1h-1zM1013 292h2v1h-2zM1212 292h1v2h-1zM538 293h4v1h-4zM544 293h2v1h-2zM1015 293h1v1h-1zM1163 293h1v1h-1zM542 294h2v1h-2zM1016 294h1v1h-1zM1162 294h1v2h-1zM1213 294h1v2h-1zM1017 295h1v2h-1zM1161 296h1v1h-1zM1214 296h1v2h-1zM1018 297h1v1h-1zM1160 297h1v2h-1zM1019 298h1v1h-1zM1215 298h1v3h-1zM1020 299h1v1h-1zM1159 299h1v1h-1zM1021 300h1v1h-1zM1158 300h1v1h-1zM1022 301h1v1h-1zM1157 301h1v2h-1zM1216 301h1v2h-1zM1023 302h1v1h-1zM1024 303h1v1h-1zM1156 303h1v1h-1zM1217 303h1v3h-1zM1025 304h1v1h-1zM1155 304h1v1h-1zM1026 305h1v1h-1zM1153 305h2v1h-2zM1027 306h2v1h-2zM1151 306h2v1h-2zM1218 306h1v2h-1zM1029 307h2v1h-2zM1149 307h2v1h-2zM1031 308h1v1h-1zM1147 308h2v1h-2zM1219 308h1v3h-1zM1032 309h2v1h-2zM1145 309h2v1h-2zM1034 310h1v1h-1zM1143 310h2v1h-2zM1035 311h1v1h-1zM1142 311h1v1h-1zM1220 311h1v3h-1zM1036 312h2v1h-2zM1140 312h2v1h-2zM1038 313h1v1h-1zM1139 313h1v1h-1zM1039 314h2v1h-2zM1137 314h2v1h-2zM1221 314h1v2h-1zM1041 315h2v1h-2zM1135 315h2v1h-2zM1043 316h3v1h-3zM1134 316h1v1h-1zM1222 316h1v3h-1zM1046 317h3v1h-3zM1132 317h2v1h-2zM1049 318h2v1h-2zM1131 318h1v1h-1zM1051 319h3v1h-3zM1129 319h2v1h-2zM1223 319h1v4h-1zM1054 320h8v1h-8zM1127 320h2v1h-2zM1062 321h7v1h-7zM1125 321h2v1h-2zM1069 322h2v1h-2zM1074 322h4v1h-4zM1123 322h2v1h-2zM1071 323h3v1h-3zM1078 323h8v1h-8zM1099 323h7v1h-7zM1121 323h2v1h-2zM1224 323h1v4h-1zM1086 324h4v1h-4zM1097 324h2v1h-2zM1106 324h8v1h-8zM1118 324h3v1h-3zM1090 325h7v1h-7zM1114 325h4v1h-4zM1225 327h1v4h-1zM1226 331h1v4h-1zM1227 335h1v4h-1zM1228 339h1v4h-1zM1229 343h1v4h-1zM1230 347h1v4h-1zM1231 351h1v4h-1zM1232 355h1v4h-1zM1233 359h1v5h-1zM1234 364h1v4h-1zM1235 368h1v5h-1zM1236 373h1v4h-1zM1237 377h1v4h-1zM1238 381h1v4h-1zM1239 385h1v3h-1zM1240 388h1v4h-1zM1241 392h1v3h-1zM1242 395h1v4h-1zM1243 399h1v3h-1zM1244 402h1v2h-1zM1245 404h1v2h-1zM1246 406h1v2h-1zM1247 408h1v2h-1zM1248 410h1v2h-1zM1249 412h1v2h-1zM1250 414h1v2h-1zM1251 416h1v1h-1zM1252 417h1v1h-1zM1253 418h1v2h-1zM1254 420h1v1h-1zM1255 421h1v2h-1zM1256 423h1v2h-1zM1257 425h1v2h-1zM1258 427h1v2h-1zM1259 429h8v1h-8z" fill="#ff0000" shape-rendering="crispEdges"/>
<path d="M151 72h2v1h-2zM159 72h1v1h-1zM150 73h1v1h-1zM153 73h2v1h-2zM157 73h2v1h-2zM160 73h1v2h-1zM149 74h1v1h-1zM155 74h2v1h-2zM148 75h1v1h-1zM161 75h1v2h-1zM147 76h1v1h-1zM146 77h1v1h-1zM162 77h1v2h-1zM186 77h2v1h-2zM145 78h1v1h-1zM183 78h3v1h-3zM188 78h1v1h-1zM144 79h1v1h-1zM163 79h3v1h-3zM182 79h1v2h-1zM189 79h1v2h-1zM143 80h1v1h-1zM166 80h4v1h-4zM142 81h1v1h-1zM170 81h2v1h-2zM181 81h1v2h-1zM190 81h1v1h-1zM141 82h1v2h-1zM172 82h2v1h-2zM191 82h1v1h-1zM174 83h1v1h-1zM180 83h1v2h-1zM192 83h1v2h-1zM140 84h1v1h-1zM175 84h2v1h-2zM139 85h1v1h-1zM177 85h3v1h-3zM193 85h1v1h-1zM138 86h1v1h-1zM179 86h1v1h-1zM194 86h1v2h-1zM136 87h2v1h-2zM135 88h1v2h-1zM195 88h1v1h-1zM196 89h1v2h-1zM134 90h1v3h-1zM197 91h1v1h-1zM198 92h1v2h-1zM133 93h1v3h-1zM199 94h1v2h-1zM132 96h1v3h-1zM200 96h1v4h-1zM131 99h1v3h-1zM201 100h1v4h-1zM130 102h1v2h-1zM129 104h1v2h-1zM202 104h1v4h-1zM128 106h1v2h-1zM127 108h1v3h-1zM203 108h1v3h-1zM126 111h1v2h-1zM204 111h1v2h-1zM125 113h1v3h-1zM205 113h1v3h-1zM124 116h1v2h-1zM206 116h1v2h-1zM123 118h1v3h-1zM207 118h1v2h-1zM208 120h1v1h-1zM230 120h4v1h-4zM122 121h1v3h-1zM209 121h1v1h-1zM223 121h7v1h-7zM234 121h2v1h-2zM210 122h1v1h-1zM222 122h1v1h-1zM236 122h1v2h-1zM211 123h3v1h-3zM221 123h1v1h-1zM121 124h1v4h-1zM214 124h4v1h-4zM220 124h1v1h-1zM237 124h1v2h-1zM218 125h2v1h-2zM238 126h1v2h-1zM120 128h1v3h-1zM239 128h1v2h-1zM240 130h1v2h-1zM119 131h1v3h-1zM241 132h1v2h-1zM118 134h1v3h-1zM242 134h1v2h-1zM243 136h1v2h-1zM117 137h1v4h-1zM244 138h1v2h-1zM3 140h1v2h-1zM245 140h1v1h-1zM267 140h1v1h-1zM116 141h1v3h-1zM246 141h1v2h-1zM265 141h2v1h-2zM268 141h1v1h-1zM4 142h1v2h-1zM263 142h2v1h-2zM269 142h1v1h-1zM247 143h1v1h-1zM262 143h1v2h-1zM270 143h1v1h-1zM5 144h1v3h-1zM115 144h1v2h-1zM248 144h1v2h-1zM271 144h1v2h-1zM261 145h1v1h-1zM114 146h1v2h-1zM249 146h1v2h-1zM260 146h1v2h-1zM272 146h1v2h-1zM6 147h1v2h-1zM113 148h1v2h-1zM250 148h1v2h-1zM259 148h1v1h-1zM273 148h1v2h-1zM7 149h1v2h-1zM257 149h2v1h-2zM112 150h1v2h-1zM251 150h6v1h-6zM274 150h1v2h-1zM8 151h1v2h-1zM111 152h1v1h-1zM275 152h1v3h-1zM9 153h1v2h-1zM110 153h1v1h-1zM109 154h1v2h-1zM10 155h1v2h-1zM276 155h1v3h-1zM108 156h1v1h-1zM11 157h1v1h-1zM107 157h1v1h-1zM12 158h1v1h-1zM106 158h1v1h-1zM277 158h1v3h-1zM13 159h1v2h-1zM105 159h1v1h-1zM104 160h1v1h-1zM14 161h1v1h-1zM103 161h1v1h-1zM278 161h1v3h-1zM15 162h1v1h-1zM102 162h1v1h-1zM16 163h1v1h-1zM101 163h1v1h-1zM17 164h1v2h-1zM100 164h1v1h-1zM279 164h1v4h-1zM98 165h2v1h-2zM18 166h1v1h-1zM95 166h3v1h-3zM19 167h1v2h-1zM94 167h1v1h-1zM92 168h2v1h-2zM280 168h1v4h-1zM20 169h1v2h-1zM91 169h1v1h-1zM89 170h2v1h-2zM21 171h1v3h-1zM87 171h2v1h-2zM86 172h1v1h-1zM281 172h1v4h-1zM84 173h2v1h-2zM22 174h1v2h-1zM78 174h6v1h-6zM75 175h3v1h-3zM895 175h1v1h-1zM23 176h1v3h-1zM74 176h1v1h-1zM282 176h1v4h-1zM893 176h2v1h-2zM896 176h1v1h-1zM73 177h1v1h-1zM891 177h2v1h-2zM897 177h1v2h-1zM72 178h1v1h-1zM889 178h2v1h-2zM24 179h1v2h-1zM71 179h1v1h-1zM887 179h2v1h-2zM898 179h1v1h-1zM70 180h1v1h-1zM283 180h1v3h-1zM330 180h2v1h-2zM886 180h1v1h-1zM899 180h1v2h-1zM25 181h1v2h-1zM69 181h1v1h-1zM327 181h3v1h-3zM331 181h1v2h-1zM884 181h2v1h-2zM68 182h1v1h-1zM326 182h1v1h-1zM883 182h1v1h-1zM900 182h1v3h-1zM26 183h1v2h-1zM67 183h1v1h-1zM284 183h1v4h-1zM325 183h1v2h-1zM332 183h1v4h-1zM882 183h1v2h-1zM65 184h2v1h-2zM27 185h1v2h-1zM63 185h2v1h-2zM324 185h1v1h-1zM881 185h1v2h-1zM901 185h1v4h-1zM62 186h1v1h-1zM323 186h1v1h-1zM735 186h5v1h-5zM28 187h1v2h-1zM61 187h1v1h-1zM285 187h1v3h-1zM322 187h1v1h-1zM333 187h1v4h-1zM699 187h1v1h-1zM734 187h1v1h-1zM739 187h1v1h-1zM880 187h1v2h-1zM60 188h1v1h-1zM321 188h1v2h-1zM698 188h1v2h-1zM700 188h1v1h-1zM732 188h2v1h-2zM740 188h1v2h-1zM29 189h1v1h-1zM59 189h1v1h-1zM701 189h1v1h-1zM707 189h1v1h-1zM731 189h1v1h-1zM879 189h1v2h-1zM902 189h1v3h-1zM30 190h1v2h-1zM58 190h1v2h-1zM286 190h1v4h-1zM320 190h1v1h-1zM697 190h1v1h-1zM702 190h1v1h-1zM705 190h2v1h-2zM708 190h1v1h-1zM730 190h1v1h-1zM741 190h1v2h-1zM319 191h1v2h-1zM334 191h1v4h-1zM696 191h1v2h-1zM703 191h2v1h-2zM709 191h1v1h-1zM728 191h2v1h-2zM878 191h1v2h-1zM31 192h1v2h-1zM57 192h1v1h-1zM710 192h1v1h-1zM727 192h1v1h-1zM742 192h1v2h-1zM903 192h1v3h-1zM56 193h1v2h-1zM318 193h1v2h-1zM695 193h1v1h-1zM711 193h1v1h-1zM725 193h2v1h-2zM830 193h2v1h-2zM877 193h1v1h-1zM32 194h1v2h-1zM287 194h1v3h-1zM694 194h1v1h-1zM712 194h2v1h-2zM723 194h2v1h-2zM743 194h1v3h-1zM827 194h3v1h-3zM832 194h1v1h-1zM876 194h1v2h-1zM55 195h1v1h-1zM317 195h1v2h-1zM335 195h1v5h-1zM693 195h1v2h-1zM714 195h1v1h-1zM721 195h2v1h-2zM826 195h1v1h-1zM833 195h1v2h-1zM904 195h1v2h-1zM33 196h1v2h-1zM54 196h1v1h-1zM715 196h6v1h-6zM824 196h2v1h-2zM875 196h1v1h-1zM53 197h1v1h-1zM288 197h1v3h-1zM316 197h1v2h-1zM692 197h1v1h-1zM744 197h1v3h-1zM823 197h1v2h-1zM834 197h1v1h-1zM874 197h1v2h-1zM905 197h1v3h-1zM34 198h1v2h-1zM52 198h1v1h-1zM691 198h1v1h-1zM783 198h2v1h-2zM835 198h1v2h-1zM50 199h2v1h-2zM315 199h1v3h-1zM690 199h1v1h-1zM782 199h1v1h-1zM785 199h2v1h-2zM822 199h1v3h-1zM873 199h1v2h-1zM35 200h1v1h-1zM47 200h3v1h-3zM289 200h1v4h-1zM336 200h1v5h-1zM689 200h1v2h-1zM745 200h1v3h-1zM781 200h1v1h-1zM787 200h1v1h-1zM836 200h1v2h-1zM906 200h1v2h-1zM36 201h1v1h-1zM45 201h2v1h-2zM780 201h1v1h-1zM788 201h1v2h-1zM872 201h1v2h-1zM37 202h1v1h-1zM43 202h2v1h-2zM314 202h1v3h-1zM688 202h1v1h-1zM779 202h1v1h-1zM821 202h1v2h-1zM837 202h1v2h-1zM907 202h1v3h-1zM38 203h1v1h-1zM41 203h2v1h-2zM687 203h1v1h-1zM746 203h1v3h-1zM778 203h1v2h-1zM789 203h1v2h-1zM871 203h1v3h-1zM39 204h2v1h-2zM290 204h1v3h-1zM686 204h1v1h-1zM820 204h1v3h-1zM838 204h1v2h-1zM313 205h1v3h-1zM337 205h1v5h-1zM651 205h5v1h-5zM684 205h2v1h-2zM777 205h1v2h-1zM790 205h1v2h-1zM908 205h1v3h-1zM649 206h2v1h-2zM656 206h2v1h-2zM683 206h1v2h-1zM747 206h1v3h-1zM839 206h1v2h-1zM870 206h1v2h-1zM291 207h1v3h-1zM647 207h2v1h-2zM658 207h1v1h-1zM776 207h1v2h-1zM791 207h1v2h-1zM819 207h1v3h-1zM312 208h1v3h-1zM646 208h1v1h-1zM659 208h1v2h-1zM682 208h1v2h-1zM840 208h1v2h-1zM869 208h1v2h-1zM909 208h1v2h-1zM644 209h2v1h-2zM748 209h1v3h-1zM775 209h1v1h-1zM792 209h1v2h-1zM292 210h1v3h-1zM338 210h1v5h-1zM403 210h1v1h-1zM471 210h9v1h-9zM643 210h1v1h-1zM660 210h1v2h-1zM681 210h1v3h-1zM774 210h1v2h-1zM818 210h1v3h-1zM841 210h1v2h-1zM868 210h1v2h-1zM910 210h1v3h-1zM311 211h1v2h-1zM402 211h1v1h-1zM404 211h1v1h-1zM470 211h1v2h-1zM479 211h1v1h-1zM642 211h1v2h-1zM793 211h1v2h-1zM401 212h1v1h-1zM405 212h1v1h-1zM480 212h1v3h-1zM661 212h1v2h-1zM749 212h1v3h-1zM773 212h1v2h-1zM842 212h1v2h-1zM867 212h1v2h-1zM293 213h1v4h-1zM310 213h1v2h-1zM400 213h1v1h-1zM406 213h1v1h-1zM469 213h1v1h-1zM641 213h1v1h-1zM680 213h1v2h-1zM794 213h1v2h-1zM817 213h1v2h-1zM911 213h1v3h-1zM399 214h1v1h-1zM407 214h1v1h-1zM468 214h1v2h-1zM640 214h1v2h-1zM662 214h1v2h-1zM772 214h1v2h-1zM843 214h1v1h-1zM866 214h1v2h-1zM309 215h1v2h-1zM339 215h1v5h-1zM398 215h1v2h-1zM408 215h1v2h-1zM481 215h1v3h-1zM634 215h4v1h-4zM679 215h1v2h-1zM750 215h1v3h-1zM795 215h1v3h-1zM816 215h1v3h-1zM844 215h1v1h-1zM467 216h1v1h-1zM627 216h7v1h-7zM638 216h2v1h-2zM663 216h3v1h-3zM678 216h1v1h-1zM771 216h1v3h-1zM845 216h1v2h-1zM865 216h1v2h-1zM912 216h1v2h-1zM294 217h1v3h-1zM308 217h1v2h-1zM397 217h1v1h-1zM409 217h1v2h-1zM466 217h1v2h-1zM625 217h2v1h-2zM666 217h4v1h-4zM674 217h4v1h-4zM396 218h1v2h-1zM482 218h1v3h-1zM623 218h2v1h-2zM670 218h4v1h-4zM751 218h1v3h-1zM796 218h1v3h-1zM815 218h1v3h-1zM846 218h1v1h-1zM864 218h1v2h-1zM913 218h1v2h-1zM307 219h1v1h-1zM410 219h1v2h-1zM465 219h1v1h-1zM621 219h2v1h-2zM770 219h1v2h-1zM847 219h1v1h-1zM295 220h1v2h-1zM306 220h1v1h-1zM340 220h1v5h-1zM395 220h1v1h-1zM464 220h1v2h-1zM619 220h2v1h-2zM848 220h1v2h-1zM862 220h2v1h-2zM914 220h1v2h-1zM305 221h1v2h-1zM394 221h1v2h-1zM411 221h1v2h-1zM483 221h1v3h-1zM618 221h1v2h-1zM752 221h1v3h-1zM769 221h1v2h-1zM797 221h1v2h-1zM814 221h1v2h-1zM859 221h3v1h-3zM296 222h1v1h-1zM463 222h1v2h-1zM849 222h1v2h-1zM858 222h1v1h-1zM915 222h1v2h-1zM297 223h1v1h-1zM304 223h1v1h-1zM393 223h1v2h-1zM412 223h1v2h-1zM617 223h1v1h-1zM768 223h1v2h-1zM798 223h1v3h-1zM813 223h1v2h-1zM857 223h1v1h-1zM298 224h1v1h-1zM302 224h2v1h-2zM462 224h1v3h-1zM484 224h1v2h-1zM616 224h1v2h-1zM753 224h1v2h-1zM850 224h1v2h-1zM856 224h1v1h-1zM916 224h2v1h-2zM923 224h2v1h-2zM299 225h3v1h-3zM341 225h1v4h-1zM392 225h1v2h-1zM413 225h1v2h-1zM767 225h1v2h-1zM812 225h1v2h-1zM854 225h2v1h-2zM918 225h1v1h-1zM921 225h2v1h-2zM925 225h2v1h-2zM485 226h1v2h-1zM591 226h1v1h-1zM615 226h1v2h-1zM754 226h1v3h-1zM799 226h1v2h-1zM851 226h3v1h-3zM919 226h2v1h-2zM927 226h2v1h-2zM391 227h1v2h-1zM414 227h1v2h-1zM461 227h1v4h-1zM590 227h1v2h-1zM592 227h1v1h-1zM766 227h1v2h-1zM811 227h1v2h-1zM929 227h2v1h-2zM486 228h1v2h-1zM593 228h1v1h-1zM614 228h1v2h-1zM800 228h1v2h-1zM931 228h1v1h-1zM342 229h1v5h-1zM390 229h1v2h-1zM415 229h1v3h-1zM589 229h1v2h-1zM594 229h1v1h-1zM755 229h1v2h-1zM765 229h1v2h-1zM810 229h1v2h-1zM932 229h1v1h-1zM487 230h1v4h-1zM595 230h1v1h-1zM613 230h1v2h-1zM801 230h1v2h-1zM933 230h1v1h-1zM389 231h1v1h-1zM460 231h1v3h-1zM588 231h1v2h-1zM596 231h2v1h-2zM756 231h1v2h-1zM764 231h1v2h-1zM809 231h1v1h-1zM934 231h1v1h-1zM388 232h1v2h-1zM416 232h1v2h-1zM598 232h1v1h-1zM612 232h1v2h-1zM802 232h1v2h-1zM808 232h1v2h-1zM935 232h1v1h-1zM587 233h1v2h-1zM599 233h1v1h-1zM757 233h1v2h-1zM763 233h1v1h-1zM936 233h1v2h-1zM343 234h1v6h-1zM387 234h1v3h-1zM417 234h1v2h-1zM459 234h1v3h-1zM488 234h1v4h-1zM600 234h2v1h-2zM611 234h1v2h-1zM762 234h1v1h-1zM803 234h5v1h-5zM586 235h1v2h-1zM602 235h1v1h-1zM758 235h1v2h-1zM761 235h1v1h-1zM937 235h1v2h-1zM418 236h1v2h-1zM603 236h1v1h-1zM610 236h1v1h-1zM760 236h1v1h-1zM386 237h1v4h-1zM458 237h1v3h-1zM585 237h1v2h-1zM604 237h2v1h-2zM609 237h1v1h-1zM759 237h1v1h-1zM938 237h1v2h-1zM419 238h6v1h-6zM431 238h2v1h-2zM489 238h1v5h-1zM606 238h1v1h-1zM608 238h1v1h-1zM425 239h2v1h-2zM429 239h2v1h-2zM433 239h2v1h-2zM584 239h1v2h-1zM607 239h1v1h-1zM939 239h1v1h-1zM344 240h1v7h-1zM427 240h2v1h-2zM435 240h2v1h-2zM457 240h1v2h-1zM940 240h1v1h-1zM385 241h1v4h-1zM437 241h2v1h-2zM583 241h1v3h-1zM941 241h1v1h-1zM439 242h1v2h-1zM456 242h1v3h-1zM942 242h1v1h-1zM490 243h1v4h-1zM943 243h1v1h-1zM440 244h1v2h-1zM582 244h1v3h-1zM944 244h2v1h-2zM384 245h1v4h-1zM455 245h1v2h-1zM946 245h1v1h-1zM441 246h1v2h-1zM947 246h1v1h-1zM345 247h1v7h-1zM454 247h1v2h-1zM491 247h1v4h-1zM581 247h1v3h-1zM948 247h1v2h-1zM442 248h1v2h-1zM383 249h1v4h-1zM453 249h1v2h-1zM949 249h1v1h-1zM443 250h2v1h-2zM580 250h1v3h-1zM950 250h1v2h-1zM445 251h2v1h-2zM452 251h1v2h-1zM492 251h1v3h-1zM447 252h3v1h-3zM951 252h1v1h-1zM382 253h1v2h-1zM450 253h2v1h-2zM579 253h1v3h-1zM952 253h1v2h-1zM346 254h1v7h-1zM493 254h1v3h-1zM381 255h1v2h-1zM953 255h1v1h-1zM578 256h1v4h-1zM954 256h1v2h-1zM380 257h1v2h-1zM494 257h1v3h-1zM955 258h1v1h-1zM379 259h1v3h-1zM956 259h1v1h-1zM1174 259h2v1h-2zM495 260h1v4h-1zM577 260h1v4h-1zM957 260h1v1h-1zM1171 260h3v1h-3zM1176 260h2v1h-2zM347 261h1v6h-1zM958 261h1v1h-1zM1170 261h1v1h-1zM1178 261h1v1h-1zM378 262h1v2h-1zM959 262h1v1h-1zM1169 262h1v2h-1zM1179 262h1v1h-1zM960 263h2v1h-2zM971 263h3v1h-3zM978 263h4v1h-4zM1180 263h1v1h-1zM377 264h1v3h-1zM496 264h1v6h-1zM576 264h1v4h-1zM962 264h1v1h-1zM970 264h1v1h-1zM974 264h4v1h-4zM982 264h2v1h-2zM1168 264h1v1h-1zM1181 264h1v1h-1zM963 265h3v1h-3zM968 265h2v1h-2zM984 265h1v2h-1zM1167 265h1v1h-1zM1182 265h1v1h-1zM966 266h2v1h-2zM1166 266h1v1h-1zM1183 266h1v1h-1zM348 267h1v6h-1zM376 267h1v2h-1zM551 267h1v1h-1zM985 267h1v1h-1zM1165 267h1v2h-1zM1184 267h1v1h-1zM550 268h1v1h-1zM552 268h2v1h-2zM575 268h1v4h-1zM986 268h1v2h-1zM1185 268h1v1h-1zM375 269h1v3h-1zM548 269h2v1h-2zM554 269h1v1h-1zM1164 269h1v1h-1zM1186 269h1v1h-1zM497 270h1v6h-1zM547 270h1v1h-1zM555 270h1v1h-1zM987 270h1v2h-1zM1163 270h1v1h-1zM1187 270h1v1h-1zM546 271h1v1h-1zM556 271h1v2h-1zM1162 271h1v1h-1zM1188 271h1v2h-1zM374 272h1v2h-1zM545 272h1v2h-1zM574 272h1v2h-1zM988 272h1v2h-1zM1161 272h1v1h-1zM349 273h1v6h-1zM557 273h1v2h-1zM1160 273h1v1h-1zM1189 273h1v1h-1zM373 274h1v3h-1zM544 274h1v1h-1zM573 274h1v3h-1zM989 274h1v2h-1zM1159 274h1v1h-1zM1190 274h1v2h-1zM543 275h1v1h-1zM558 275h1v2h-1zM1158 275h1v1h-1zM498 276h1v6h-1zM542 276h1v2h-1zM990 276h1v2h-1zM1157 276h1v2h-1zM1191 276h1v1h-1zM372 277h1v2h-1zM559 277h3v1h-3zM572 277h1v2h-1zM1192 277h1v1h-1zM541 278h1v1h-1zM562 278h7v1h-7zM991 278h1v3h-1zM1156 278h1v1h-1zM1193 278h1v2h-1zM350 279h1v6h-1zM371 279h1v3h-1zM540 279h1v2h-1zM569 279h3v1h-3zM1155 279h1v1h-1zM571 280h1v1h-1zM1154 280h1v1h-1zM1194 280h1v1h-1zM539 281h1v1h-1zM992 281h1v3h-1zM1153 281h1v1h-1zM1195 281h1v2h-1zM370 282h1v3h-1zM499 282h1v3h-1zM538 282h1v2h-1zM1152 282h1v1h-1zM1151 283h1v1h-1zM1196 283h1v2h-1zM537 284h1v1h-1zM993 284h1v2h-1zM1149 284h2v1h-2zM351 285h1v3h-1zM369 285h1v4h-1zM500 285h1v2h-1zM536 285h1v2h-1zM1147 285h2v1h-2zM1197 285h1v2h-1zM994 286h1v3h-1zM1145 286h2v1h-2zM501 287h1v2h-1zM535 287h1v2h-1zM1143 287h2v1h-2zM1198 287h1v2h-1zM352 288h1v2h-1zM1142 288h1v1h-1zM368 289h1v3h-1zM502 289h1v2h-1zM534 289h1v2h-1zM995 289h1v3h-1zM1141 289h1v1h-1zM1199 289h1v3h-1zM353 290h1v1h-1zM1140 290h1v1h-1zM354 291h1v2h-1zM503 291h1v2h-1zM533 291h1v2h-1zM1139 291h1v1h-1zM367 292h1v2h-1zM996 292h1v3h-1zM1138 292h1v2h-1zM1200 292h1v2h-1zM355 293h2v1h-2zM504 293h1v3h-1zM532 293h1v2h-1zM357 294h2v1h-2zM366 294h1v1h-1zM1137 294h1v2h-1zM1201 294h1v2h-1zM359 295h2v1h-2zM365 295h1v1h-1zM531 295h1v2h-1zM997 295h1v2h-1zM361 296h2v1h-2zM364 296h1v1h-1zM505 296h1v2h-1zM1136 296h1v2h-1zM1202 296h1v2h-1zM363 297h1v1h-1zM530 297h1v2h-1zM998 297h1v3h-1zM506 298h1v3h-1zM1135 298h1v2h-1zM1203 298h1v3h-1zM529 299h1v2h-1zM999 300h1v3h-1zM1134 300h1v3h-1zM507 301h1v2h-1zM528 301h1v2h-1zM1204 301h1v3h-1zM508 302h4v1h-4zM511 303h1v1h-1zM527 303h1v2h-1zM1000 303h1v4h-1zM1133 303h1v3h-1zM512 304h1v2h-1zM1205 304h1v3h-1zM526 305h1v1h-1zM513 306h1v2h-1zM525 306h1v2h-1zM1132 306h1v3h-1zM519 307h2v1h-2zM1001 307h1v3h-1zM1206 307h1v3h-1zM514 308h1v2h-1zM518 308h1v1h-1zM521 308h2v1h-2zM524 308h1v1h-1zM517 309h1v1h-1zM523 309h1v1h-1zM1039 309h3v1h-3zM1131 309h1v3h-1zM515 310h2v1h-2zM1002 310h1v4h-1zM1038 310h1v1h-1zM1042 310h3v1h-3zM1099 310h2v1h-2zM1207 310h1v4h-1zM515 311h1v1h-1zM1036 311h2v1h-2zM1045 311h2v1h-2zM1098 311h1v2h-1zM1101 311h2v1h-2zM1034 312h2v1h-2zM1047 312h1v1h-1zM1103 312h1v1h-1zM1130 312h1v3h-1zM1031 313h3v1h-3zM1048 313h1v2h-1zM1097 313h1v1h-1zM1104 313h1v2h-1zM1003 314h1v2h-1zM1030 314h1v1h-1zM1096 314h1v2h-1zM1208 314h1v4h-1zM1028 315h2v1h-2zM1049 315h1v2h-1zM1105 315h1v1h-1zM1129 315h1v4h-1zM1004 316h1v2h-1zM1026 316h2v1h-2zM1095 316h1v1h-1zM1106 316h1v2h-1zM1023 317h3v1h-3zM1050 317h1v2h-1zM1094 317h1v1h-1zM1005 318h1v2h-1zM1022 318h1v1h-1zM1092 318h2v1h-2zM1107 318h1v1h-1zM1209 318h1v4h-1zM1021 319h1v1h-1zM1051 319h1v2h-1zM1091 319h1v1h-1zM1108 319h1v2h-1zM1128 319h1v3h-1zM1006 320h1v2h-1zM1020 320h1v1h-1zM1089 320h2v1h-2zM1015 321h5v1h-5zM1052 321h1v2h-1zM1087 321h2v1h-2zM1109 321h1v2h-1zM1007 322h2v1h-2zM1014 322h1v1h-1zM1085 322h2v1h-2zM1127 322h1v3h-1zM1210 322h1v4h-1zM1009 323h2v1h-2zM1012 323h2v1h-2zM1053 323h1v3h-1zM1083 323h2v1h-2zM1110 323h1v2h-1zM1011 324h1v1h-1zM1082 324h1v1h-1zM1080 325h2v1h-2zM1111 325h1v1h-1zM1126 325h1v2h-1zM1054 326h1v2h-1zM1078 326h2v1h-2zM1112 326h1v2h-1zM1211 326h1v5h-1zM1075 327h3v1h-3zM1125 327h1v3h-1zM1055 328h1v2h-1zM1074 328h1v2h-1zM1113 328h1v2h-1zM1056 330h1v1h-1zM1073 330h1v1h-1zM1114 330h1v2h-1zM1124 330h1v2h-1zM1057 331h1v1h-1zM1072 331h1v2h-1zM1212 331h1v6h-1zM1058 332h1v1h-1zM1115 332h1v1h-1zM1123 332h1v2h-1zM1059 333h1v1h-1zM1071 333h1v1h-1zM1116 333h1v2h-1zM1060 334h2v1h-2zM1070 334h1v1h-1zM1122 334h1v1h-1zM1062 335h1v1h-1zM1068 335h2v1h-2zM1117 335h1v1h-1zM1121 335h1v2h-1zM1063 336h5v1h-5zM1118 336h1v2h-1zM1120 337h1v1h-1zM1213 337h1v5h-1zM1119 338h1v1h-1zM1214 342h1v6h-1zM1215 348h1v4h-1zM1216 352h1v4h-1zM1217 356h1v3h-1zM1218 359h1v4h-1zM1219 363h1v4h-1zM1220 367h1v4h-1zM1221 371h1v5h-1zM1222 376h1v4h-1zM1223 380h1v6h-1zM1224 386h1v7h-1zM1266 389h1v2h-1zM1265 391h1v1h-1zM1264 392h1v2h-1zM1225 393h1v7h-1zM1263 394h1v4h-1zM1262 398h1v6h-1zM1226 400h1v7h-1zM1261 404h1v7h-1zM1227 407h1v6h-1zM1260 411h1v6h-1zM1228 413h1v6h-1zM1259 417h1v5h-1zM1229 419h1v6h-1zM1258 422h1v4h-1zM1230 425h1v6h-1zM1257 426h1v3h-1zM1256 429h1v4h-1zM1231 431h1v6h-1zM1255 433h1v5h-1zM1232 437h1v6h-1zM1254 438h1v6h-1zM1233 443h1v7h-1zM1253 444h1v7h-1zM1234 450h1v6h-1zM1252 451h1v6h-1zM1235 456h1v6h-1zM1251 457h1v6h-1zM1236 462h1v6h-1zM1250 463h1v4h-1zM1249 467h1v4h-1zM1237 468h1v5h-1zM1248 471h1v4h-1zM1238 473h1v6h-1zM1247 475h1v5h-1zM1239 479h1v4h-1zM1246 480h1v4h-1zM1240 483h1v3h-1zM1245 484h1v4h-1zM1241 486h1v4h-1zM1244 488h1v4h-1zM1242 490h1v3h-1zM1243 492h1v3h-1z" fill="#ffa500" shape-rendering="crispEdges"/>
<g shape-rendering="crispEdges">
<rect x="3" y="109" width="1592" height="2" fill="#ff0000"/>
<rect x="3" y="179" width="1592" height="2" fill="#ff0000"/>
<rect x="3" y="233" width="1592" height="2" fill="#ff0000"/>
<rect x="3" y="328" width="1592" height="2" fill="#ff0000"/>
<rect x="3" y="384" width="1592" height="2" fill="#ff0000"/>
<rect x="2" y="382" width="6" height="6" fill="#ff0000"/><rect x="4" y="384" width="2" height="2" fill="#fff"/>
<rect x="1589" y="382" width="6" height="6" fill="#ff0000"/><rect x="1591" y="384" width="2" height="2" fill="#fff"/>
<rect x="3" y="467" width="1592" height="2" fill="#00ff00"/>
<rect x="2" y="465" width="6" height="6" fill="#00ff00"/><rect x="4" y="467" width="2" height="2" fill="#fff"/>
<rect x="1589" y="465" width="6" height="6" fill="#00ff00"/><rect x="1591" y="467" width="2" height="2" fill="#fff"/>
<rect x="3" y="522" width="1592" height="2" fill="#0000ff"/>
<rect x="3" y="577" width="1592" height="2" fill="#0000ff"/>
<rect x="2" y="575" width="6" height="6" fill="#0000ff"/><rect x="4" y="577" width="2" height="2" fill="#fff"/>
<rect x="1589" y="575" width="6" height="6" fill="#0000ff"/><rect x="1591" y="577" width="2" height="2" fill="#fff"/>
</g>
<g shape-rendering="crispEdges" fill="#000">
<rect x="1596" y="27" width="2" height="1"/>
<rect x="1596" y="60" width="2" height="1"/>
<rect x="1596" y="93" width="2" height="1"/>
<rect x="1596" y="126" width="2" height="1"/>
<rect x="1596" y="159" width="2" height="1"/>
<rect x="1596" y="192" width="2" height="1"/>
<rect x="1596" y="225" width="2" height="1"/>
<rect x="1596" y="258" width="2" height="1"/>
<rect x="1596" y="291" width="2" height="1"/>
<rect x="1596" y="324" width="2" height="1"/>
<rect x="1596" y="357" width="2" height="1"/>
<rect x="1596" y="390" width="2" height="1"/>
<rect x="1596" y="423" width="2" height="1"/>
<rect x="1596" y="456" width="2" height="1"/>
<rect x="1596" y="489" width="2" height="1"/>
<rect x="1596" y="522" width="2" height="1"/>
<rect x="1596" y="555" width="2" height="1"/>
<rect x="1596" y="588" width="2" height="1"/>
<rect x="1596" y="594" width="2" height="1"/>
<rect x="1596" y="625" width="2" height="1"/>
<rect x="1596" y="666" width="2" height="1"/>
<rect x="1596" y="696" width="2" height="1"/>
<rect x="1596" y="700" width="2" height="1"/>
<rect x="1596" y="736" width="2" height="1"/>
<rect x="1596" y="801" width="2" height="1"/>
</g>
<text x="1600.7" y="31" font-size="9.3" fill="#000" textLength="33.5" lengthAdjust="spacingAndGlyphs">1.02870</text>
<text x="1600.7" y="64" font-size="9.3" fill="#000" textLength="33.5" lengthAdjust="spacingAndGlyphs">1.02210</text>
<text x="1600.7" y="97" font-size="9.3" fill="#000" textLength="33.5" lengthAdjust="spacingAndGlyphs">1.01550</text>
<text x="1600.7" y="130" font-size="9.3" fill="#000" textLength="33.5" lengthAdjust="spacingAndGlyphs">1.00890</text>
<text x="1600.7" y="163" font-size="9.3" fill="#000" textLength="33.5" lengthAdjust="spacingAndGlyphs">1.00210</text>
<text x="1600.7" y="196" font-size="9.3" fill="#000" textLength="33.5" lengthAdjust="spacingAndGlyphs">0.99550</text>
<text x="1600.7" y="229" font-size="9.3" fill="#000" textLength="33.5" lengthAdjust="spacingAndGlyphs">0.98890</text>
<text x="1600.7" y="262" font-size="9.3" fill="#000" textLength="33.5" lengthAdjust="spacingAndGlyphs">0.98230</text>
<text x="1600.7" y="295" font-size="9.3" fill="#000" textLength="33.5" lengthAdjust="spacingAndGlyphs">0.97570</text>
<text x="1600.7" y="328" font-size="9.3" fill="#000" textLength="33.5" lengthAdjust="spacingAndGlyphs">0.96910</text>
<text x="1600.7" y="361" font-size="9.3" fill="#000" textLength="33.5" lengthAdjust="spacingAndGlyphs">0.96250</text>
<text x="1600.7" y="394" font-size="9.3" fill="#000" textLength="33.5" lengthAdjust="spacingAndGlyphs">0.95570</text>
<text x="1600.7" y="427" font-size="9.3" fill="#000" textLength="33.5" lengthAdjust="spacingAndGlyphs">0.94910</text>
<text x="1600.7" y="460" font-size="9.3" fill="#000" textLength="33.5" lengthAdjust="spacingAndGlyphs">0.94250</text>
<text x="1600.7" y="493" font-size="9.3" fill="#000" textLength="33.5" lengthAdjust="spacingAndGlyphs">0.93590</text>
<text x="1600.7" y="526" font-size="9.3" fill="#000" textLength="33.5" lengthAdjust="spacingAndGlyphs">0.92930</text>
<text x="1600.7" y="559" font-size="9.3" fill="#000" textLength="33.5" lengthAdjust="spacingAndGlyphs">0.92270</text>
<text x="1600.7" y="592" font-size="9.3" fill="#000" textLength="33.5" lengthAdjust="spacingAndGlyphs">0.91610</text>
<rect x="1597" y="104" width="41" height="11" fill="#ff0000" shape-rendering="crispEdges"/>
<text x="1600.7" y="113" font-size="9.3" fill="#fff" textLength="33.5" lengthAdjust="spacingAndGlyphs">1.01207</text>
<rect x="1597" y="174" width="41" height="11" fill="#ff0000" shape-rendering="crispEdges"/>
<text x="1600.7" y="183" font-size="9.3" fill="#fff" textLength="33.5" lengthAdjust="spacingAndGlyphs">0.99800</text>
<rect x="1597" y="228" width="41" height="11" fill="#ff0000" shape-rendering="crispEdges"/>
<text x="1600.7" y="237" font-size="9.3" fill="#fff" textLength="33.5" lengthAdjust="spacingAndGlyphs">0.98703</text>
<rect x="1597" y="323" width="41" height="11" fill="#ff0000" shape-rendering="crispEdges"/>
<text x="1600.7" y="332" font-size="9.3" fill="#fff" textLength="33.5" lengthAdjust="spacingAndGlyphs">0.96803</text>
<rect x="1597" y="379" width="41" height="11" fill="#ff0000" shape-rendering="crispEdges"/>
<text x="1600.7" y="388" font-size="9.3" fill="#fff" textLength="33.5" lengthAdjust="spacingAndGlyphs">0.95678</text>
<rect x="1597" y="462" width="41" height="11" fill="#00ff00" shape-rendering="crispEdges"/>
<text x="1600.7" y="471" font-size="9.3" fill="#fff" textLength="33.5" lengthAdjust="spacingAndGlyphs">0.94016</text>
<rect x="1597" y="517" width="41" height="11" fill="#0000ff" shape-rendering="crispEdges"/>
<text x="1600.7" y="526" font-size="9.3" fill="#fff" textLength="33.5" lengthAdjust="spacingAndGlyphs">0.92914</text>
<rect x="1597" y="572" width="41" height="11" fill="#0000ff" shape-rendering="crispEdges"/>
<text x="1600.7" y="581" font-size="9.3" fill="#fff" textLength="33.5" lengthAdjust="spacingAndGlyphs">0.91811</text>
<rect x="1597" y="366" width="41" height="11" fill="#000000" shape-rendering="crispEdges"/>
<text x="1600.7" y="375" font-size="9.3" fill="#fff" textLength="33.5" lengthAdjust="spacingAndGlyphs">0.95965</text>
<path d="M3 625h3v1h-3zM9 625h3v1h-3zM15 625h3v1h-3zM21 625h3v1h-3zM27 625h3v1h-3zM33 625h3v1h-3zM39 625h3v1h-3zM45 625h3v1h-3zM51 625h3v1h-3zM57 625h3v1h-3zM63 625h3v1h-3zM69 625h3v1h-3zM75 625h3v1h-3zM81 625h3v1h-3zM87 625h3v1h-3zM93 625h3v1h-3zM99 625h3v1h-3zM105 625h3v1h-3zM111 625h3v1h-3zM117 625h3v1h-3zM123 625h3v1h-3zM129 625h3v1h-3zM135 625h3v1h-3zM141 625h3v1h-3zM147 625h3v1h-3zM153 625h3v1h-3zM159 625h3v1h-3zM165 625h3v1h-3zM171 625h3v1h-3zM177 625h3v1h-3zM183 625h3v1h-3zM189 625h3v1h-3zM195 625h3v1h-3zM201 625h3v1h-3zM207 625h3v1h-3zM213 625h3v1h-3zM219 625h3v1h-3zM225 625h3v1h-3zM231 625h3v1h-3zM237 625h3v1h-3zM243 625h3v1h-3zM249 625h3v1h-3zM255 625h3v1h-3zM261 625h3v1h-3zM267 625h3v1h-3zM273 625h3v1h-3zM279 625h3v1h-3zM285 625h3v1h-3zM291 625h3v1h-3zM297 625h3v1h-3zM303 625h3v1h-3zM309 625h3v1h-3zM315 625h3v1h-3zM321 625h3v1h-3zM327 625h3v1h-3zM333 625h3v1h-3zM339 625h3v1h-3zM345 625h3v1h-3zM351 625h3v1h-3zM357 625h3v1h-3zM363 625h3v1h-3zM369 625h3v1h-3zM375 625h3v1h-3zM381 625h3v1h-3zM387 625h3v1h-3zM393 625h3v1h-3zM399 625h3v1h-3zM405 625h3v1h-3zM411 625h3v1h-3zM417 625h3v1h-3zM423 625h3v1h-3zM429 625h3v1h-3zM435 625h3v1h-3zM441 625h3v1h-3zM447 625h3v1h-3zM453 625h3v1h-3zM459 625h3v1h-3zM465 625h3v1h-3zM471 625h3v1h-3zM477 625h3v1h-3zM483 625h3v1h-3zM489 625h3v1h-3zM495 625h3v1h-3zM501 625h3v1h-3zM507 625h3v1h-3zM513 625h3v1h-3zM519 625h3v1h-3zM525 625h3v1h-3zM531 625h3v1h-3zM537 625h3v1h-3zM543 625h3v1h-3zM549 625h3v1h-3zM555 625h3v1h-3zM561 625h3v1h-3zM567 625h3v1h-3zM573 625h3v1h-3zM579 625h3v1h-3zM585 625h3v1h-3zM591 625h3v1h-3zM597 625h3v1h-3zM603 625h3v1h-3zM609 625h3v1h-3zM615 625h3v1h-3zM621 625h3v1h-3zM627 625h3v1h-3zM633 625h3v1h-3zM639 625h3v1h-3zM645 625h3v1h-3zM651 625h3v1h-3zM657 625h3v1h-3zM663 625h3v1h-3zM669 625h3v1h-3zM675 625h3v1h-3zM681 625h3v1h-3zM687 625h3v1h-3zM693 625h3v1h-3zM699 625h3v1h-3zM705 625h3v1h-3zM711 625h3v1h-3zM717 625h3v1h-3zM723 625h3v1h-3zM729 625h3v1h-3zM735 625h3v1h-3zM741 625h3v1h-3zM747 625h3v1h-3zM753 625h3v1h-3zM759 625h3v1h-3zM765 625h3v1h-3zM771 625h3v1h-3zM777 625h3v1h-3zM783 625h3v1h-3zM789 625h3v1h-3zM795 625h3v1h-3zM801 625h3v1h-3zM807 625h3v1h-3zM813 625h3v1h-3zM819 625h3v1h-3zM825 625h3v1h-3zM831 625h3v1h-3zM837 625h3v1h-3zM843 625h3v1h-3zM849 625h3v1h-3zM855 625h3v1h-3zM861 625h3v1h-3zM867 625h3v1h-3zM873 625h3v1h-3zM879 625h3v1h-3zM885 625h3v1h-3zM891 625h3v1h-3zM897 625h3v1h-3zM903 625h3v1h-3zM909 625h3v1h-3zM915 625h3v1h-3zM921 625h3v1h-3zM927 625h3v1h-3zM933 625h3v1h-3zM939 625h3v1h-3zM945 625h3v1h-3zM951 625h3v1h-3zM957 625h3v1h-3zM963 625h3v1h-3zM969 625h3v1h-3zM975 625h3v1h-3zM981 625h3v1h-3zM987 625h3v1h-3zM993 625h3v1h-3zM999 625h3v1h-3zM1005 625h3v1h-3zM1011 625h3v1h-3zM1017 625h3v1h-3zM1023 625h3v1h-3zM1029 625h3v1h-3zM1035 625h3v1h-3zM1041 625h3v1h-3zM1047 625h3v1h-3zM1053 625h3v1h-3zM1059 625h3v1h-3zM1065 625h3v1h-3zM1071 625h3v1h-3zM1077 625h3v1h-3zM1083 625h3v1h-3zM1089 625h3v1h-3zM1095 625h3v1h-3zM1101 625h3v1h-3zM1107 625h3v1h-3zM1113 625h3v1h-3zM1119 625h3v1h-3zM1125 625h3v1h-3zM1131 625h3v1h-3zM1137 625h3v1h-3zM1143 625h3v1h-3zM1149 625h3v1h-3zM1155 625h3v1h-3zM1161 625h3v1h-3zM1167 625h3v1h-3zM1173 625h3v1h-3zM1179 625h3v1h-3zM1185 625h3v1h-3zM1191 625h3v1h-3zM1197 625h3v1h-3zM1203 625h3v1h-3zM1209 625h3v1h-3zM1215 625h3v1h-3zM1221 625h3v1h-3zM1227 625h3v1h-3zM1233 625h3v1h-3zM1239 625h3v1h-3zM1245 625h3v1h-3zM1251 625h3v1h-3zM1257 625h3v1h-3zM1263 625h3v1h-3zM1269 625h3v1h-3zM1275 625h3v1h-3zM1281 625h3v1h-3zM1287 625h3v1h-3zM1293 625h3v1h-3zM1299 625h3v1h-3zM1305 625h3v1h-3zM1311 625h3v1h-3zM1317 625h3v1h-3zM1323 625h3v1h-3zM1329 625h3v1h-3zM1335 625h3v1h-3zM1341 625h3v1h-3zM1347 625h3v1h-3zM1353 625h3v1h-3zM1359 625h3v1h-3zM1365 625h3v1h-3zM1371 625h3v1h-3zM1377 625h3v1h-3zM1383 625h3v1h-3zM1389 625h3v1h-3zM1395 625h3v1h-3zM1401 625h3v1h-3zM1407 625h3v1h-3zM1413 625h3v1h-3zM1419 625h3v1h-3zM1425 625h3v1h-3zM1431 625h3v1h-3zM1437 625h3v1h-3zM1443 625h3v1h-3zM1449 625h3v1h-3zM1455 625h3v1h-3zM1461 625h3v1h-3zM1467 625h3v1h-3zM1473 625h3v1h-3zM1479 625h3v1h-3zM1485 625h3v1h-3zM1491 625h3v1h-3zM1497 625h3v1h-3zM1503 625h3v1h-3zM1509 625h3v1h-3zM1515 625h3v1h-3zM1521 625h3v1h-3zM1527 625h3v1h-3zM1533 625h3v1h-3zM1539 625h3v1h-3zM1545 625h3v1h-3zM1551 625h3v1h-3zM1557 625h3v1h-3zM1563 625h3v1h-3zM1569 625h3v1h-3zM1575 625h3v1h-3zM1581 625h3v1h-3zM1587 625h3v1h-3zM1593 625h1v1h-1z" fill="#c0c0c0" shape-rendering="crispEdges"/>
<path d="M3 666h3v1h-3zM9 666h3v1h-3zM15 666h3v1h-3zM21 666h3v1h-3zM27 666h3v1h-3zM33 666h3v1h-3zM39 666h3v1h-3zM45 666h3v1h-3zM51 666h3v1h-3zM57 666h3v1h-3zM63 666h3v1h-3zM69 666h3v1h-3zM75 666h3v1h-3zM81 666h3v1h-3zM87 666h3v1h-3zM93 666h3v1h-3zM99 666h3v1h-3zM105 666h3v1h-3zM111 666h3v1h-3zM117 666h3v1h-3zM123 666h3v1h-3zM129 666h3v1h-3zM135 666h3v1h-3zM141 666h3v1h-3zM147 666h3v1h-3zM153 666h3v1h-3zM159 666h3v1h-3zM165 666h3v1h-3zM171 666h3v1h-3zM177 666h3v1h-3zM183 666h3v1h-3zM189 666h3v1h-3zM195 666h3v1h-3zM201 666h3v1h-3zM207 666h3v1h-3zM213 666h3v1h-3zM219 666h3v1h-3zM225 666h3v1h-3zM231 666h3v1h-3zM237 666h3v1h-3zM243 666h3v1h-3zM249 666h3v1h-3zM255 666h3v1h-3zM261 666h3v1h-3zM267 666h3v1h-3zM273 666h3v1h-3zM279 666h3v1h-3zM285 666h3v1h-3zM291 666h3v1h-3zM297 666h3v1h-3zM303 666h3v1h-3zM309 666h3v1h-3zM315 666h3v1h-3zM321 666h3v1h-3zM327 666h3v1h-3zM333 666h3v1h-3zM339 666h3v1h-3zM345 666h3v1h-3zM351 666h3v1h-3zM357 666h3v1h-3zM363 666h3v1h-3zM369 666h3v1h-3zM375 666h3v1h-3zM381 666h3v1h-3zM387 666h3v1h-3zM393 666h3v1h-3zM399 666h3v1h-3zM405 666h3v1h-3zM411 666h3v1h-3zM417 666h3v1h-3zM423 666h3v1h-3zM429 666h3v1h-3zM435 666h3v1h-3zM441 666h3v1h-3zM447 666h3v1h-3zM453 666h3v1h-3zM459 666h3v1h-3zM465 666h3v1h-3zM471 666h3v1h-3zM477 666h3v1h-3zM483 666h3v1h-3zM489 666h3v1h-3zM495 666h3v1h-3zM501 666h3v1h-3zM507 666h3v1h-3zM513 666h3v1h-3zM519 666h3v1h-3zM525 666h3v1h-3zM531 666h3v1h-3zM537 666h3v1h-3zM543 666h3v1h-3zM549 666h3v1h-3zM555 666h3v1h-3zM561 666h3v1h-3zM567 666h3v1h-3zM573 666h3v1h-3zM579 666h3v1h-3zM585 666h3v1h-3zM591 666h3v1h-3zM597 666h3v1h-3zM603 666h3v1h-3zM609 666h3v1h-3zM615 666h3v1h-3zM621 666h3v1h-3zM627 666h3v1h-3zM633 666h3v1h-3zM639 666h3v1h-3zM645 666h3v1h-3zM651 666h3v1h-3zM657 666h3v1h-3zM663 666h3v1h-3zM669 666h3v1h-3zM675 666h3v1h-3zM681 666h3v1h-3zM687 666h3v1h-3zM693 666h3v1h-3zM699 666h3v1h-3zM705 666h3v1h-3zM711 666h3v1h-3zM717 666h3v1h-3zM723 666h3v1h-3zM729 666h3v1h-3zM735 666h3v1h-3zM741 666h3v1h-3zM747 666h3v1h-3zM753 666h3v1h-3zM759 666h3v1h-3zM765 666h3v1h-3zM771 666h3v1h-3zM777 666h3v1h-3zM783 666h3v1h-3zM789 666h3v1h-3zM795 666h3v1h-3zM801 666h3v1h-3zM807 666h3v1h-3zM813 666h3v1h-3zM819 666h3v1h-3zM825 666h3v1h-3zM831 666h3v1h-3zM837 666h3v1h-3zM843 666h3v1h-3zM849 666h3v1h-3zM855 666h3v1h-3zM861 666h3v1h-3zM867 666h3v1h-3zM873 666h3v1h-3zM879 666h3v1h-3zM885 666h3v1h-3zM891 666h3v1h-3zM897 666h3v1h-3zM903 666h3v1h-3zM909 666h3v1h-3zM915 666h3v1h-3zM921 666h3v1h-3zM927 666h3v1h-3zM933 666h3v1h-3zM939 666h3v1h-3zM945 666h3v1h-3zM951 666h3v1h-3zM957 666h3v1h-3zM963 666h3v1h-3zM969 666h3v1h-3zM975 666h3v1h-3zM981 666h3v1h-3zM987 666h3v1h-3zM993 666h3v1h-3zM999 666h3v1h-3zM1005 666h3v1h-3zM1011 666h3v1h-3zM1017 666h3v1h-3zM1023 666h3v1h-3zM1029 666h3v1h-3zM1035 666h3v1h-3zM1041 666h3v1h-3zM1047 666h3v1h-3zM1053 666h3v1h-3zM1059 666h3v1h-3zM1065 666h3v1h-3zM1071 666h3v1h-3zM1077 666h3v1h-3zM1083 666h3v1h-3zM1089 666h3v1h-3zM1095 666h3v1h-3zM1101 666h3v1h-3zM1107 666h3v1h-3zM1113 666h3v1h-3zM1119 666h3v1h-3zM1125 666h3v1h-3zM1131 666h3v1h-3zM1137 666h3v1h-3zM1143 666h3v1h-3zM1149 666h3v1h-3zM1155 666h3v1h-3zM1161 666h3v1h-3zM1167 666h3v1h-3zM1173 666h3v1h-3zM1179 666h3v1h-3zM1185 666h3v1h-3zM1191 666h3v1h-3zM1197 666h3v1h-3zM1203 666h3v1h-3zM1209 666h3v1h-3zM1215 666h3v1h-3zM1221 666h3v1h-3zM1227 666h3v1h-3zM1233 666h3v1h-3zM1239 666h3v1h-3zM1245 666h3v1h-3zM1251 666h3v1h-3zM1257 666h3v1h-3zM1263 666h3v1h-3zM1269 666h3v1h-3zM1275 666h3v1h-3zM1281 666h3v1h-3zM1287 666h3v1h-3zM1293 666h3v1h-3zM1299 666h3v1h-3zM1305 666h3v1h-3zM1311 666h3v1h-3zM1317 666h3v1h-3zM1323 666h3v1h-3zM1329 666h3v1h-3zM1335 666h3v1h-3zM1341 666h3v1h-3zM1347 666h3v1h-3zM1353 666h3v1h-3zM1359 666h3v1h-3zM1365 666h3v1h-3zM1371 666h3v1h-3zM1377 666h3v1h-3zM1383 666h3v1h-3zM1389 666h3v1h-3zM1395 666h3v1h-3zM1401 666h3v1h-3zM1407 666h3v1h-3zM1413 666h3v1h-3zM1419 666h3v1h-3zM1425 666h3v1h-3zM1431 666h3v1h-3zM1437 666h3v1h-3zM1443 666h3v1h-3zM1449 666h3v1h-3zM1455 666h3v1h-3zM1461 666h3v1h-3zM1467 666h3v1h-3zM1473 666h3v1h-3zM1479 666h3v1h-3zM1485 666h3v1h-3zM1491 666h3v1h-3zM1497 666h3v1h-3zM1503 666h3v1h-3zM1509 666h3v1h-3zM1515 666h3v1h-3zM1521 666h3v1h-3zM1527 666h3v1h-3zM1533 666h3v1h-3zM1539 666h3v1h-3zM1545 666h3v1h-3zM1551 666h3v1h-3zM1557 666h3v1h-3zM1563 666h3v1h-3zM1569 666h3v1h-3zM1575 666h3v1h-3zM1581 666h3v1h-3zM1587 666h3v1h-3zM1593 666h1v1h-1z" fill="#c0c0c0" shape-rendering="crispEdges"/>
<path d="M135 613h1v2h-1zM134 614h1v1h-1zM133 615h1v2h-1zM136 615h1v2h-1zM119 616h5v1h-5zM118 617h1v2h-1zM124 617h1v1h-1zM132 617h1v1h-1zM137 617h1v3h-1zM125 618h1v1h-1zM131 618h1v1h-1zM117 619h1v1h-1zM126 619h1v1h-1zM129 619h2v1h-2zM116 620h1v2h-1zM127 620h2v1h-2zM138 620h1v2h-1zM143 621h1v1h-1zM115 622h1v1h-1zM139 622h1v2h-1zM141 622h2v1h-2zM144 622h2v1h-2zM114 623h1v1h-1zM140 623h1v1h-1zM146 623h1v1h-1zM154 623h6v1h-6zM113 624h1v2h-1zM147 624h7v1h-7zM159 624h1v2h-1zM112 626h1v1h-1zM160 626h1v4h-1zM111 627h1v1h-1zM1171 627h1v1h-1zM110 628h1v2h-1zM1170 628h1v1h-1zM1172 628h2v1h-2zM183 629h1v1h-1zM1158 629h8v1h-8zM1168 629h2v1h-2zM1174 629h1v1h-1zM109 630h1v1h-1zM161 630h1v4h-1zM182 630h1v1h-1zM184 630h1v2h-1zM1155 630h3v1h-3zM1166 630h2v1h-2zM1175 630h1v2h-1zM108 631h1v2h-1zM181 631h1v2h-1zM1154 631h1v1h-1zM185 632h1v2h-1zM683 632h1v2h-1zM891 632h5v1h-5zM1153 632h1v1h-1zM1176 632h1v3h-1zM107 633h1v1h-1zM180 633h1v1h-1zM643 633h1v1h-1zM879 633h7v1h-7zM889 633h2v1h-2zM895 633h1v2h-1zM1152 633h1v1h-1zM95 634h1v1h-1zM105 634h2v1h-2zM162 634h1v4h-1zM167 634h7v1h-7zM178 634h2v1h-2zM186 634h1v2h-1zM582 634h6v1h-6zM619 634h1v1h-1zM642 634h1v1h-1zM644 634h1v1h-1zM682 634h1v3h-1zM684 634h1v2h-1zM823 634h1v1h-1zM877 634h2v1h-2zM886 634h3v1h-3zM1151 634h1v1h-1zM94 635h1v1h-1zM96 635h1v1h-1zM103 635h2v1h-2zM166 635h1v2h-1zM174 635h4v1h-4zM462 635h2v1h-2zM579 635h3v1h-3zM588 635h1v1h-1zM617 635h2v1h-2zM620 635h1v2h-1zM640 635h2v1h-2zM645 635h1v1h-1zM691 635h3v1h-3zM735 635h1v1h-1zM821 635h2v1h-2zM824 635h1v2h-1zM871 635h6v1h-6zM896 635h1v4h-1zM1150 635h1v1h-1zM1177 635h1v2h-1zM92 636h2v1h-2zM97 636h1v1h-1zM102 636h1v1h-1zM187 636h1v2h-1zM459 636h3v1h-3zM464 636h1v1h-1zM578 636h1v1h-1zM589 636h1v2h-1zM611 636h6v1h-6zM638 636h2v1h-2zM646 636h1v1h-1zM685 636h1v2h-1zM690 636h1v1h-1zM694 636h3v1h-3zM727 636h2v1h-2zM734 636h1v1h-1zM736 636h1v2h-1zM819 636h2v1h-2zM870 636h1v1h-1zM1134 636h12v1h-12zM1148 636h2v1h-2zM91 637h1v1h-1zM98 637h1v1h-1zM100 637h2v1h-2zM165 637h1v1h-1zM458 637h1v1h-1zM465 637h1v2h-1zM479 637h1v3h-1zM577 637h1v1h-1zM610 637h1v1h-1zM621 637h1v2h-1zM634 637h4v1h-4zM647 637h5v1h-5zM681 637h1v2h-1zM689 637h1v2h-1zM697 637h2v1h-2zM725 637h2v1h-2zM729 637h2v1h-2zM732 637h2v1h-2zM818 637h1v1h-1zM825 637h1v2h-1zM868 637h2v1h-2zM1131 637h3v1h-3zM1146 637h2v1h-2zM1178 637h1v3h-1zM90 638h1v1h-1zM99 638h1v1h-1zM163 638h2v1h-2zM188 638h1v3h-1zM395 638h2v1h-2zM457 638h1v2h-1zM478 638h1v1h-1zM576 638h1v1h-1zM590 638h1v1h-1zM609 638h1v1h-1zM631 638h3v1h-3zM652 638h2v1h-2zM686 638h1v2h-1zM699 638h1v1h-1zM723 638h2v1h-2zM731 638h1v1h-1zM737 638h1v2h-1zM779 638h1v1h-1zM816 638h2v1h-2zM867 638h1v1h-1zM1129 638h2v1h-2zM89 639h1v2h-1zM163 639h2v1h-2zM393 639h2v1h-2zM397 639h2v1h-2zM466 639h1v1h-1zM477 639h1v2h-1zM575 639h1v1h-1zM591 639h1v2h-1zM608 639h1v1h-1zM622 639h1v2h-1zM629 639h2v1h-2zM654 639h1v1h-1zM671 639h3v1h-3zM680 639h1v3h-1zM688 639h1v1h-1zM700 639h2v1h-2zM721 639h2v1h-2zM777 639h2v1h-2zM780 639h1v1h-1zM815 639h1v1h-1zM826 639h1v2h-1zM866 639h1v2h-1zM897 639h1v4h-1zM1099 639h1v2h-1zM1127 639h2v1h-2zM163 640h1v1h-1zM387 640h6v1h-6zM399 640h1v1h-1zM456 640h1v1h-1zM467 640h2v1h-2zM480 640h1v4h-1zM574 640h1v1h-1zM602 640h6v1h-6zM626 640h3v1h-3zM655 640h1v1h-1zM670 640h1v1h-1zM674 640h2v1h-2zM687 640h1v1h-1zM702 640h1v1h-1zM718 640h3v1h-3zM738 640h1v2h-1zM774 640h3v1h-3zM781 640h1v1h-1zM814 640h1v1h-1zM1098 640h1v1h-1zM1126 640h1v1h-1zM1179 640h1v2h-1zM1263 640h1v2h-1zM71 641h7v1h-7zM88 641h1v1h-1zM189 641h1v2h-1zM387 641h1v1h-1zM400 641h1v1h-1zM455 641h1v1h-1zM469 641h2v1h-2zM476 641h1v1h-1zM573 641h1v2h-1zM592 641h1v2h-1zM599 641h3v1h-3zM623 641h3v1h-3zM656 641h1v1h-1zM668 641h2v1h-2zM676 641h2v1h-2zM703 641h7v1h-7zM714 641h4v1h-4zM771 641h3v1h-3zM782 641h1v1h-1zM813 641h1v1h-1zM827 641h3v1h-3zM865 641h1v2h-1zM1096 641h2v1h-2zM1100 641h1v3h-1zM1124 641h2v1h-2zM1180 641h1v1h-1zM1264 641h1v1h-1zM70 642h1v2h-1zM78 642h4v1h-4zM86 642h2v1h-2zM386 642h1v2h-1zM401 642h1v2h-1zM454 642h1v2h-1zM471 642h5v1h-5zM551 642h1v2h-1zM598 642h1v2h-1zM657 642h1v1h-1zM667 642h1v1h-1zM678 642h2v1h-2zM710 642h4v1h-4zM739 642h1v2h-1zM770 642h1v1h-1zM783 642h1v1h-1zM812 642h1v1h-1zM830 642h2v1h-2zM1095 642h1v1h-1zM1123 642h1v1h-1zM1181 642h2v1h-2zM1262 642h1v4h-1zM1265 642h1v2h-1zM82 643h4v1h-4zM190 643h1v3h-1zM549 643h2v1h-2zM567 643h3v1h-3zM572 643h1v1h-1zM593 643h1v2h-1zM658 643h1v1h-1zM666 643h1v2h-1zM679 643h1v1h-1zM768 643h2v1h-2zM784 643h1v2h-1zM810 643h2v1h-2zM831 643h1v1h-1zM859 643h1v1h-1zM864 643h1v2h-1zM898 643h1v4h-1zM1094 643h1v2h-1zM1122 643h1v1h-1zM1183 643h5v1h-5zM59 644h5v1h-5zM69 644h1v2h-1zM385 644h1v2h-1zM402 644h1v1h-1zM423 644h1v1h-1zM453 644h1v2h-1zM481 644h1v4h-1zM547 644h2v1h-2zM552 644h1v2h-1zM566 644h1v1h-1zM570 644h2v1h-2zM597 644h1v1h-1zM659 644h1v1h-1zM740 644h1v4h-1zM767 644h1v1h-1zM807 644h3v1h-3zM832 644h1v2h-1zM858 644h1v2h-1zM860 644h2v1h-2zM1101 644h1v4h-1zM1121 644h1v2h-1zM1188 644h2v1h-2zM1195 644h1v2h-1zM1266 644h1v1h-1zM3 645h5v1h-5zM58 645h1v2h-1zM64 645h1v1h-1zM403 645h3v1h-3zM422 645h1v2h-1zM424 645h2v1h-2zM539 645h2v1h-2zM546 645h1v1h-1zM565 645h1v2h-1zM594 645h1v2h-1zM596 645h1v2h-1zM660 645h1v1h-1zM665 645h1v1h-1zM766 645h1v1h-1zM785 645h1v2h-1zM807 645h1v1h-1zM862 645h2v1h-2zM1093 645h1v2h-1zM1190 645h1v1h-1zM1193 645h2v1h-2zM8 646h1v1h-1zM65 646h1v1h-1zM68 646h1v2h-1zM191 646h1v2h-1zM327 646h1v1h-1zM384 646h1v2h-1zM406 646h2v1h-2zM426 646h1v1h-1zM452 646h1v2h-1zM531 646h2v1h-2zM538 646h1v1h-1zM541 646h2v1h-2zM544 646h2v1h-2zM553 646h1v3h-1zM661 646h1v1h-1zM664 646h1v2h-1zM765 646h1v1h-1zM806 646h1v3h-1zM833 646h1v2h-1zM857 646h1v1h-1zM863 646h1v1h-1zM1120 646h1v1h-1zM1191 646h2v1h-2zM1196 646h1v4h-1zM1261 646h1v4h-1zM9 647h1v2h-1zM57 647h1v2h-1zM66 647h1v1h-1zM199 647h1v2h-1zM255 647h1v2h-1zM315 647h5v1h-5zM326 647h1v1h-1zM328 647h1v1h-1zM378 647h3v1h-3zM408 647h1v2h-1zM421 647h1v2h-1zM427 647h3v1h-3zM530 647h1v1h-1zM533 647h2v1h-2zM536 647h2v1h-2zM543 647h1v1h-1zM564 647h1v1h-1zM595 647h1v1h-1zM662 647h1v1h-1zM764 647h1v1h-1zM786 647h1v2h-1zM856 647h1v2h-1zM899 647h1v4h-1zM1092 647h1v2h-1zM1119 647h1v1h-1zM67 648h1v1h-1zM192 648h2v1h-2zM198 648h1v1h-1zM219 648h5v1h-5zM231 648h1v1h-1zM256 648h2v1h-2zM263 648h1v1h-1zM314 648h1v2h-1zM320 648h2v1h-2zM325 648h1v1h-1zM329 648h1v2h-1zM371 648h7v1h-7zM381 648h3v1h-3zM430 648h2v1h-2zM450 648h2v1h-2zM482 648h1v4h-1zM529 648h1v2h-1zM535 648h1v1h-1zM563 648h1v1h-1zM663 648h1v1h-1zM741 648h1v4h-1zM763 648h1v1h-1zM834 648h1v2h-1zM1083 648h6v1h-6zM1102 648h1v3h-1zM1118 648h1v2h-1zM1255 648h1v2h-1zM10 649h1v1h-1zM56 649h1v2h-1zM194 649h1v1h-1zM196 649h2v1h-2zM200 649h1v2h-1zM217 649h2v1h-2zM224 649h1v1h-1zM230 649h1v1h-1zM232 649h2v1h-2zM254 649h1v2h-1zM258 649h1v1h-1zM261 649h2v1h-2zM264 649h1v2h-1zM322 649h1v1h-1zM324 649h1v1h-1zM371 649h1v2h-1zM383 649h1v1h-1zM409 649h1v1h-1zM420 649h1v2h-1zM432 649h1v2h-1zM447 649h3v1h-3zM554 649h1v2h-1zM562 649h1v1h-1zM762 649h1v1h-1zM787 649h1v1h-1zM805 649h1v3h-1zM855 649h1v1h-1zM915 649h2v1h-2zM1082 649h1v1h-1zM1089 649h3v1h-3zM1253 649h2v1h-2zM11 650h5v1h-5zM195 650h1v1h-1zM214 650h3v1h-3zM225 650h1v2h-1zM229 650h1v2h-1zM234 650h1v1h-1zM259 650h2v1h-2zM313 650h1v2h-1zM323 650h1v1h-1zM330 650h1v1h-1zM410 650h1v2h-1zM446 650h1v2h-1zM528 650h1v1h-1zM561 650h1v1h-1zM760 650h2v1h-2zM788 650h1v2h-1zM835 650h1v2h-1zM854 650h1v1h-1zM914 650h1v2h-1zM917 650h2v1h-2zM1075 650h2v1h-2zM1081 650h1v1h-1zM1091 650h1v1h-1zM1117 650h1v2h-1zM1197 650h1v4h-1zM1247 650h6v1h-6zM1256 650h1v2h-1zM1260 650h1v4h-1zM16 651h1v2h-1zM51 651h5v1h-5zM201 651h1v2h-1zM210 651h4v1h-4zM235 651h1v1h-1zM253 651h1v2h-1zM265 651h1v2h-1zM331 651h1v2h-1zM370 651h1v4h-1zM418 651h2v1h-2zM433 651h1v1h-1zM527 651h1v1h-1zM555 651h1v2h-1zM560 651h1v1h-1zM759 651h1v1h-1zM836 651h1v1h-1zM843 651h5v1h-5zM853 651h1v2h-1zM900 651h1v2h-1zM919 651h1v1h-1zM1074 651h1v2h-1zM1077 651h2v1h-2zM1080 651h1v1h-1zM1103 651h1v2h-1zM1247 651h1v2h-1zM50 652h1v1h-1zM207 652h3v1h-3zM226 652h1v1h-1zM228 652h1v1h-1zM236 652h1v2h-1zM312 652h1v2h-1zM411 652h7v1h-7zM434 652h1v2h-1zM445 652h1v1h-1zM483 652h1v3h-1zM526 652h1v1h-1zM556 652h4v1h-4zM742 652h1v4h-1zM758 652h1v1h-1zM789 652h1v1h-1zM804 652h1v3h-1zM837 652h2v1h-2zM841 652h2v1h-2zM848 652h2v1h-2zM913 652h1v1h-1zM920 652h2v1h-2zM1034 652h4v1h-4zM1079 652h1v1h-1zM1116 652h1v2h-1zM1257 652h1v2h-1zM17 653h1v1h-1zM48 653h2v1h-2zM202 653h1v2h-1zM206 653h1v1h-1zM227 653h1v1h-1zM252 653h1v2h-1zM266 653h1v2h-1zM332 653h1v4h-1zM444 653h1v2h-1zM519 653h3v1h-3zM524 653h2v1h-2zM757 653h1v2h-1zM790 653h1v2h-1zM839 653h2v1h-2zM850 653h1v1h-1zM852 653h1v1h-1zM901 653h1v3h-1zM912 653h1v2h-1zM922 653h1v1h-1zM1031 653h3v1h-3zM1038 653h2v1h-2zM1067 653h1v1h-1zM1073 653h1v1h-1zM1104 653h1v2h-1zM1246 653h1v5h-1zM18 654h1v2h-1zM46 654h2v1h-2zM205 654h1v1h-1zM237 654h1v2h-1zM311 654h1v2h-1zM435 654h7v1h-7zM484 654h4v1h-4zM518 654h1v2h-1zM522 654h2v1h-2zM851 654h1v1h-1zM907 654h3v1h-3zM923 654h1v1h-1zM967 654h3v1h-3zM983 654h1v2h-1zM1030 654h1v1h-1zM1040 654h2v1h-2zM1066 654h1v1h-1zM1068 654h2v1h-2zM1072 654h1v2h-1zM1115 654h1v1h-1zM1198 654h1v4h-1zM1258 654h2v1h-2zM43 655h3v1h-3zM203 655h2v1h-2zM251 655h1v2h-1zM267 655h1v1h-1zM307 655h4v1h-4zM369 655h1v4h-1zM442 655h2v1h-2zM487 655h1v1h-1zM495 655h1v2h-1zM503 655h1v1h-1zM756 655h1v1h-1zM791 655h1v1h-1zM803 655h1v2h-1zM906 655h1v1h-1zM910 655h2v1h-2zM924 655h2v1h-2zM934 655h2v1h-2zM965 655h2v1h-2zM970 655h2v1h-2zM982 655h1v1h-1zM1029 655h1v2h-1zM1042 655h1v1h-1zM1065 655h1v1h-1zM1070 655h1v1h-1zM1105 655h1v1h-1zM1114 655h1v1h-1zM1258 655h2v1h-2zM19 656h1v2h-1zM42 656h1v1h-1zM203 656h1v1h-1zM238 656h1v2h-1zM268 656h2v1h-2zM306 656h1v1h-1zM488 656h1v2h-1zM496 656h1v2h-1zM502 656h1v2h-1zM504 656h1v1h-1zM517 656h1v1h-1zM743 656h1v2h-1zM755 656h1v1h-1zM792 656h2v1h-2zM802 656h1v1h-1zM902 656h1v2h-1zM905 656h1v2h-1zM926 656h1v1h-1zM930 656h4v1h-4zM936 656h1v2h-1zM963 656h2v1h-2zM972 656h2v1h-2zM981 656h1v2h-1zM984 656h1v2h-1zM1023 656h2v1h-2zM1043 656h1v1h-1zM1064 656h1v1h-1zM1071 656h1v1h-1zM1106 656h1v2h-1zM1113 656h1v2h-1zM1259 656h1v1h-1zM40 657h2v1h-2zM250 657h1v1h-1zM270 657h1v1h-1zM305 657h1v1h-1zM333 657h1v4h-1zM494 657h1v2h-1zM505 657h1v1h-1zM511 657h2v1h-2zM516 657h1v2h-1zM744 657h1v1h-1zM754 657h1v1h-1zM794 657h1v1h-1zM798 657h4v1h-4zM927 657h3v1h-3zM962 657h1v2h-1zM974 657h1v1h-1zM1022 657h1v2h-1zM1025 657h2v1h-2zM1028 657h1v1h-1zM1044 657h1v1h-1zM1059 657h5v1h-5zM20 658h1v2h-1zM39 658h1v1h-1zM239 658h1v1h-1zM249 658h1v2h-1zM271 658h2v1h-2zM304 658h1v1h-1zM489 658h1v3h-1zM497 658h1v1h-1zM501 658h1v1h-1zM506 658h1v1h-1zM509 658h2v1h-2zM513 658h2v1h-2zM745 658h2v1h-2zM753 658h1v1h-1zM795 658h3v1h-3zM903 658h2v1h-2zM937 658h1v1h-1zM943 658h3v1h-3zM975 658h3v1h-3zM980 658h1v1h-1zM985 658h1v2h-1zM1027 658h1v1h-1zM1045 658h1v1h-1zM1058 658h1v2h-1zM1107 658h3v1h-3zM1112 658h1v1h-1zM1199 658h1v2h-1zM1245 658h1v5h-1zM30 659h2v1h-2zM38 659h1v1h-1zM240 659h2v1h-2zM273 659h2v1h-2zM303 659h1v1h-1zM368 659h1v4h-1zM493 659h1v2h-1zM498 659h1v2h-1zM500 659h1v2h-1zM507 659h2v1h-2zM515 659h1v1h-1zM747 659h3v1h-3zM752 659h1v1h-1zM903 659h1v1h-1zM938 659h1v2h-1zM942 659h1v1h-1zM946 659h2v1h-2zM961 659h1v2h-1zM978 659h2v1h-2zM1015 659h1v1h-1zM1021 659h1v2h-1zM1046 659h1v1h-1zM1110 659h2v1h-2zM1200 659h1v1h-1zM21 660h1v2h-1zM27 660h3v1h-3zM32 660h2v1h-2zM37 660h1v1h-1zM242 660h1v1h-1zM248 660h1v1h-1zM275 660h1v1h-1zM302 660h1v1h-1zM750 660h2v1h-2zM940 660h2v1h-2zM948 660h1v1h-1zM955 660h1v1h-1zM986 660h1v2h-1zM1014 660h1v1h-1zM1016 660h1v1h-1zM1047 660h1v1h-1zM1057 660h1v2h-1zM1201 660h2v1h-2zM26 661h1v1h-1zM34 661h1v1h-1zM36 661h1v1h-1zM243 661h5v1h-5zM276 661h1v2h-1zM301 661h1v2h-1zM334 661h1v4h-1zM490 661h1v2h-1zM492 661h1v2h-1zM499 661h1v1h-1zM939 661h1v1h-1zM949 661h1v2h-1zM954 661h1v1h-1zM956 661h1v1h-1zM960 661h1v2h-1zM1013 661h1v1h-1zM1017 661h1v2h-1zM1020 661h1v2h-1zM1048 661h1v1h-1zM1203 661h1v1h-1zM22 662h1v2h-1zM25 662h1v1h-1zM35 662h1v1h-1zM953 662h1v1h-1zM957 662h1v1h-1zM987 662h1v1h-1zM1012 662h1v1h-1zM1049 662h1v1h-1zM1056 662h1v2h-1zM1204 662h1v1h-1zM24 663h1v1h-1zM277 663h1v1h-1zM300 663h1v1h-1zM367 663h1v3h-1zM491 663h1v2h-1zM950 663h1v1h-1zM952 663h1v1h-1zM958 663h2v1h-2zM988 663h2v1h-2zM1011 663h1v1h-1zM1018 663h2v1h-2zM1050 663h1v1h-1zM1205 663h1v1h-1zM1244 663h1v5h-1zM23 664h1v1h-1zM278 664h1v2h-1zM299 664h1v1h-1zM358 664h4v1h-4zM951 664h1v1h-1zM959 664h1v1h-1zM990 664h1v1h-1zM1010 664h1v1h-1zM1019 664h1v1h-1zM1051 664h3v1h-3zM1055 664h1v2h-1zM1206 664h1v1h-1zM298 665h1v2h-1zM335 665h1v2h-1zM355 665h3v1h-3zM362 665h5v1h-5zM991 665h1v1h-1zM1009 665h1v1h-1zM1054 665h1v1h-1zM1207 665h1v1h-1zM279 666h3v1h-3zM336 666h1v1h-1zM354 666h1v2h-1zM992 666h1v1h-1zM1008 666h1v1h-1zM1208 666h1v2h-1zM282 667h2v1h-2zM297 667h1v2h-1zM337 667h2v1h-2zM993 667h1v1h-1zM1007 667h1v1h-1zM284 668h2v1h-2zM339 668h3v1h-3zM353 668h1v1h-1zM994 668h1v1h-1zM1006 668h1v1h-1zM1209 668h1v1h-1zM1243 668h1v4h-1zM286 669h1v1h-1zM296 669h1v2h-1zM342 669h2v1h-2zM352 669h1v2h-1zM995 669h3v1h-3zM1005 669h1v1h-1zM1210 669h1v2h-1zM287 670h3v1h-3zM344 670h1v1h-1zM998 670h4v1h-4zM1004 670h1v1h-1zM290 671h4v1h-4zM295 671h1v2h-1zM345 671h1v1h-1zM351 671h1v1h-1zM1002 671h2v1h-2zM1211 671h1v1h-1zM294 672h1v1h-1zM346 672h1v1h-1zM349 672h2v1h-2zM1212 672h1v1h-1zM1242 672h1v2h-1zM347 673h2v1h-2zM1213 673h1v1h-1zM1214 674h1v1h-1zM1241 674h1v3h-1zM1215 675h5v1h-5zM1220 676h2v1h-2zM1222 677h1v1h-1zM1240 677h1v2h-1zM1223 678h1v1h-1zM1224 679h1v2h-1zM1239 679h1v2h-1zM1225 681h1v1h-1zM1238 681h1v2h-1zM1226 682h1v2h-1zM1237 683h1v1h-1zM1227 684h6v1h-6zM1236 684h1v2h-1zM1233 685h2v1h-2zM1235 686h1v1h-1z" fill="#1e90ff" shape-rendering="crispEdges"/>
<text x="1599" y="604" font-size="9.3" fill="#000">100</text>
<text x="1599" y="629" font-size="9.3" fill="#000">70</text>
<text x="1599" y="670" font-size="9.3" fill="#000">30</text>
<text x="1599" y="694" font-size="9.3" fill="#000">0</text>
<text x="7.3" y="606" font-size="9.3" fill="#000" textLength="67.4" lengthAdjust="spacingAndGlyphs">RSI(14) 51.3026</text>
<path d="M3 728h1v9h-1zM7 729h1v8h-1zM11 731h1v6h-1zM15 732h1v5h-1zM19 735h1v2h-1zM23 736h1v4h-1zM27 736h1v7h-1zM31 736h1v8h-1zM35 736h1v11h-1zM39 736h1v12h-1zM43 736h1v12h-1zM47 736h1v12h-1zM51 736h1v11h-1zM55 736h1v10h-1zM59 736h1v8h-1zM63 736h1v7h-1zM67 736h1v6h-1zM71 736h1v5h-1zM75 736h1v3h-1zM79 736h1v2h-1zM83 736h1v2h-1zM87 736h1v1h-1zM91 734h1v3h-1zM95 733h1v4h-1zM99 732h1v5h-1zM103 731h1v6h-1zM107 730h1v7h-1zM111 728h1v9h-1zM115 725h1v12h-1zM119 720h1v17h-1zM123 717h1v20h-1zM127 715h1v22h-1zM131 713h1v24h-1zM135 709h1v28h-1zM139 708h1v29h-1zM143 706h1v31h-1zM147 706h1v31h-1zM151 706h1v31h-1zM155 706h1v31h-1zM159 706h1v31h-1zM163 710h1v27h-1zM167 711h1v26h-1zM171 712h1v25h-1zM175 713h1v24h-1zM179 714h1v23h-1zM183 714h1v23h-1zM187 715h1v22h-1zM191 719h1v18h-1zM195 723h1v14h-1zM199 725h1v12h-1zM203 730h1v7h-1zM207 733h1v4h-1zM211 735h1v2h-1zM215 736h1v1h-1zM219 736h1v2h-1zM223 736h1v2h-1zM227 736h1v4h-1zM231 736h1v4h-1zM235 736h1v5h-1zM239 736h1v7h-1zM243 736h1v10h-1zM247 736h1v13h-1zM251 736h1v14h-1zM255 736h1v12h-1zM259 736h1v11h-1zM263 736h1v10h-1zM267 736h1v12h-1zM271 736h1v13h-1zM275 736h1v15h-1zM279 736h1v19h-1zM283 736h1v23h-1zM287 736h1v27h-1zM291 736h1v30h-1zM295 736h1v33h-1zM299 736h1v33h-1zM303 736h1v32h-1zM307 736h1v29h-1zM311 736h1v27h-1zM315 736h1v23h-1zM319 736h1v20h-1zM323 736h1v18h-1zM327 736h1v15h-1zM331 736h1v15h-1zM335 736h1v20h-1zM339 736h1v25h-1zM343 736h1v30h-1zM347 736h1v36h-1zM351 736h1v40h-1zM355 736h1v41h-1zM359 736h1v41h-1zM363 736h1v41h-1zM367 736h1v40h-1zM371 736h1v35h-1zM375 736h1v30h-1zM379 736h1v26h-1zM383 736h1v23h-1zM387 736h1v17h-1zM391 736h1v13h-1zM395 736h1v8h-1zM399 736h1v5h-1zM403 736h1v4h-1zM407 736h1v4h-1zM411 736h1v5h-1zM415 736h1v6h-1zM419 736h1v7h-1zM423 736h1v5h-1zM427 736h1v5h-1zM431 736h1v5h-1zM435 736h1v7h-1zM439 736h1v8h-1zM443 736h1v9h-1zM447 736h1v9h-1zM451 736h1v8h-1zM455 736h1v6h-1zM459 736h1v2h-1zM463 734h1v3h-1zM467 732h1v5h-1zM471 732h1v5h-1zM475 731h1v6h-1zM479 730h1v7h-1zM483 733h1v4h-1zM487 736h1v1h-1zM491 736h1v8h-1zM495 736h1v11h-1zM499 736h1v16h-1zM503 736h1v18h-1zM507 736h1v21h-1zM511 736h1v23h-1zM515 736h1v25h-1zM519 736h1v25h-1zM523 736h1v24h-1zM527 736h1v23h-1zM531 736h1v19h-1zM535 736h1v17h-1zM539 736h1v14h-1zM543 736h1v13h-1zM547 736h1v10h-1zM551 736h1v7h-1zM555 736h1v9h-1zM559 736h1v10h-1zM563 736h1v9h-1zM567 736h1v7h-1zM571 736h1v6h-1zM575 736h1v2h-1zM579 733h1v4h-1zM583 729h1v8h-1zM587 726h1v11h-1zM591 725h1v12h-1zM595 727h1v10h-1zM599 727h1v10h-1zM603 726h1v11h-1zM607 726h1v11h-1zM611 724h1v13h-1zM615 723h1v14h-1zM619 721h1v16h-1zM623 721h1v16h-1zM627 722h1v15h-1zM631 722h1v15h-1zM635 721h1v16h-1zM639 721h1v16h-1zM643 720h1v17h-1zM647 720h1v17h-1zM651 720h1v17h-1zM655 721h1v16h-1zM659 723h1v14h-1zM663 726h1v11h-1zM667 726h1v11h-1zM671 726h1v11h-1zM675 726h1v11h-1zM679 727h1v10h-1zM683 725h1v12h-1zM687 725h1v12h-1zM691 723h1v14h-1zM695 722h1v15h-1zM699 722h1v15h-1zM703 723h1v14h-1zM707 724h1v13h-1zM711 725h1v12h-1zM715 725h1v12h-1zM719 726h1v11h-1zM723 726h1v11h-1zM727 725h1v12h-1zM731 725h1v12h-1zM735 725h1v12h-1zM739 726h1v11h-1zM743 731h1v6h-1zM747 735h1v2h-1zM751 736h1v4h-1zM755 736h1v6h-1zM759 736h1v6h-1zM763 736h1v6h-1zM767 736h1v5h-1zM771 736h1v3h-1zM775 736h1v1h-1zM779 735h1v2h-1zM783 734h1v3h-1zM787 735h1v2h-1zM791 736h1v3h-1zM795 736h1v5h-1zM799 736h1v7h-1zM803 736h1v8h-1zM807 736h1v7h-1zM811 736h1v5h-1zM815 736h1v3h-1zM819 735h1v2h-1zM823 733h1v4h-1zM827 732h1v5h-1zM831 732h1v5h-1zM835 734h1v3h-1zM839 736h1v1h-1zM843 736h1v2h-1zM847 736h1v3h-1zM851 736h1v4h-1zM855 736h1v4h-1zM859 736h1v3h-1zM863 736h1v3h-1zM867 736h1v1h-1zM871 733h1v4h-1zM875 731h1v6h-1zM879 729h1v8h-1zM883 727h1v10h-1zM887 726h1v11h-1zM891 725h1v12h-1zM895 724h1v13h-1zM899 727h1v10h-1zM903 732h1v5h-1zM907 735h1v2h-1zM911 736h1v2h-1zM915 736h1v3h-1zM919 736h1v4h-1zM923 736h1v5h-1zM927 736h1v8h-1zM931 736h1v9h-1zM935 736h1v10h-1zM939 736h1v12h-1zM943 736h1v13h-1zM947 736h1v14h-1zM951 736h1v17h-1zM955 736h1v18h-1zM959 736h1v19h-1zM963 736h1v19h-1zM967 736h1v18h-1zM971 736h1v18h-1zM975 736h1v18h-1zM979 736h1v18h-1zM983 736h1v17h-1zM987 736h1v19h-1zM991 736h1v21h-1zM995 736h1v25h-1zM999 736h1v27h-1zM1003 736h1v29h-1zM1007 736h1v30h-1zM1011 736h1v30h-1zM1015 736h1v28h-1zM1019 736h1v28h-1zM1023 736h1v27h-1zM1027 736h1v26h-1zM1031 736h1v24h-1zM1035 736h1v22h-1zM1039 736h1v20h-1zM1043 736h1v20h-1zM1047 736h1v20h-1zM1051 736h1v22h-1zM1055 736h1v23h-1zM1059 736h1v22h-1zM1063 736h1v21h-1zM1067 736h1v20h-1zM1071 736h1v19h-1zM1075 736h1v17h-1zM1079 736h1v16h-1zM1083 736h1v14h-1zM1087 736h1v13h-1zM1091 736h1v12h-1zM1095 736h1v9h-1zM1099 736h1v6h-1zM1103 736h1v7h-1zM1107 736h1v9h-1zM1111 736h1v11h-1zM1115 736h1v12h-1zM1119 736h1v10h-1zM1123 736h1v8h-1zM1127 736h1v5h-1zM1131 736h1v2h-1zM1135 734h1v3h-1zM1139 732h1v5h-1zM1143 730h1v7h-1zM1147 729h1v8h-1zM1151 728h1v9h-1zM1155 725h1v12h-1zM1159 723h1v14h-1zM1163 722h1v15h-1zM1167 721h1v16h-1zM1171 720h1v17h-1zM1175 719h1v18h-1zM1179 721h1v16h-1zM1183 723h1v14h-1zM1187 724h1v13h-1zM1191 726h1v11h-1zM1195 727h1v10h-1zM1199 732h1v5h-1zM1203 736h1v1h-1zM1207 736h1v5h-1zM1211 736h1v11h-1zM1215 736h1v18h-1zM1219 736h1v23h-1zM1223 736h1v29h-1zM1227 736h1v39h-1zM1231 736h1v47h-1zM1235 736h1v55h-1zM1239 736h1v60h-1zM1243 736h1v61h-1zM1247 736h1v54h-1zM1251 736h1v48h-1zM1255 736h1v41h-1zM1259 736h1v40h-1zM1263 736h1v30h-1zM1267 736h1v25h-1z" fill="#c0c0c0" shape-rendering="crispEdges"/>
<path d="M165 708h3v1h-3zM171 708h3v1h-3zM159 709h3v1h-3zM177 709h1v1h-1zM155 710h1v1h-1zM178 710h2v1h-2zM153 711h2v1h-2zM183 711h3v1h-3zM189 712h1v1h-1zM149 713h1v1h-1zM190 713h2v1h-2zM147 714h2v1h-2zM195 715h2v1h-2zM143 716h1v1h-1zM197 716h1v1h-1zM142 717h1v1h-1zM141 718h1v1h-1zM201 718h2v1h-2zM203 719h1v1h-1zM137 720h1v1h-1zM135 721h2v1h-2zM207 721h1v1h-1zM651 721h3v1h-3zM657 721h1v1h-1zM208 722h2v1h-2zM645 722h3v1h-3zM658 722h2v1h-2zM663 722h3v1h-3zM634 723h2v1h-2zM639 723h3v1h-3zM669 723h3v1h-3zM1185 723h3v1h-3zM1191 723h3v1h-3zM1197 723h1v1h-1zM131 724h1v1h-1zM627 724h3v1h-3zM633 724h1v1h-1zM675 724h3v1h-3zM681 724h1v1h-1zM711 724h3v1h-3zM717 724h3v1h-3zM723 724h3v1h-3zM1179 724h3v1h-3zM1198 724h2v1h-2zM129 725h2v1h-2zM213 725h2v1h-2zM621 725h3v1h-3zM682 725h2v1h-2zM687 725h3v1h-3zM699 725h3v1h-3zM705 725h3v1h-3zM729 725h3v1h-3zM735 725h3v1h-3zM1174 725h2v1h-2zM3 726h3v1h-3zM9 726h3v1h-3zM15 726h3v1h-3zM215 726h1v1h-1zM615 726h3v1h-3zM693 726h3v1h-3zM741 726h3v1h-3zM1173 726h1v1h-1zM1203 726h2v1h-2zM21 727h1v1h-1zM125 727h1v1h-1zM611 727h1v1h-1zM1169 727h1v1h-1zM1205 727h1v1h-1zM22 728h2v1h-2zM123 728h2v1h-2zM609 728h2v1h-2zM747 728h3v1h-3zM1167 728h2v1h-2zM219 729h2v1h-2zM899 729h1v1h-1zM903 729h3v1h-3zM909 729h1v1h-1zM1163 729h1v1h-1zM1209 729h1v1h-1zM221 730h1v1h-1zM605 730h1v1h-1zM753 730h2v1h-2zM897 730h2v1h-2zM910 730h2v1h-2zM1161 730h2v1h-2zM1210 730h1v1h-1zM27 731h2v1h-2zM118 731h2v1h-2zM603 731h2v1h-2zM755 731h1v1h-1zM915 731h3v1h-3zM1211 731h1v1h-1zM29 732h1v1h-1zM117 732h1v1h-1zM225 732h2v1h-2zM599 732h1v1h-1zM759 732h2v1h-2zM891 732h3v1h-3zM1157 732h1v1h-1zM113 733h1v1h-1zM227 733h1v1h-1zM597 733h2v1h-2zM761 733h1v1h-1zM921 733h2v1h-2zM1155 733h2v1h-2zM33 734h1v1h-1zM111 734h2v1h-2zM489 734h1v1h-1zM886 734h2v1h-2zM923 734h1v1h-1zM34 735h1v1h-1zM106 735h2v1h-2zM231 735h2v1h-2zM483 735h3v1h-3zM490 735h2v1h-2zM593 735h1v1h-1zM765 735h2v1h-2zM849 735h1v1h-1zM885 735h1v1h-1zM1215 735h1v1h-1zM35 736h1v1h-1zM105 736h1v1h-1zM233 736h1v1h-1zM479 736h1v1h-1zM495 736h2v1h-2zM591 736h2v1h-2zM767 736h1v1h-1zM838 736h2v1h-2zM843 736h3v1h-3zM850 736h2v1h-2zM855 736h3v1h-3zM879 736h3v1h-3zM927 736h2v1h-2zM1151 736h1v1h-1zM1216 736h1v1h-1zM99 737h3v1h-3zM237 737h1v1h-1zM477 737h2v1h-2zM497 737h1v1h-1zM771 737h3v1h-3zM837 737h1v1h-1zM861 737h3v1h-3zM874 737h2v1h-2zM929 737h1v1h-1zM1149 737h2v1h-2zM1217 737h1v1h-1zM94 738h2v1h-2zM238 738h2v1h-2zM587 738h1v1h-1zM777 738h1v1h-1zM789 738h3v1h-3zM795 738h3v1h-3zM801 738h3v1h-3zM831 738h3v1h-3zM867 738h3v1h-3zM873 738h1v1h-1zM39 739h2v1h-2zM93 739h1v1h-1zM243 739h2v1h-2zM471 739h3v1h-3zM501 739h2v1h-2zM585 739h2v1h-2zM778 739h2v1h-2zM783 739h3v1h-3zM807 739h3v1h-3zM813 739h1v1h-1zM825 739h3v1h-3zM933 739h2v1h-2zM1145 739h1v1h-1zM41 740h1v1h-1zM89 740h1v1h-1zM245 740h1v1h-1zM466 740h2v1h-2zM503 740h1v1h-1zM814 740h2v1h-2zM819 740h3v1h-3zM935 740h1v1h-1zM1143 740h2v1h-2zM45 741h1v1h-1zM87 741h2v1h-2zM249 741h1v1h-1zM429 741h3v1h-3zM435 741h3v1h-3zM441 741h1v1h-1zM465 741h1v1h-1zM581 741h1v1h-1zM939 741h2v1h-2zM1139 741h1v1h-1zM1221 741h1v1h-1zM46 742h2v1h-2zM82 742h2v1h-2zM250 742h2v1h-2zM423 742h3v1h-3zM442 742h2v1h-2zM447 742h3v1h-3zM454 742h2v1h-2zM459 742h3v1h-3zM579 742h2v1h-2zM941 742h1v1h-1zM1137 742h2v1h-2zM1222 742h1v1h-1zM81 743h1v1h-1zM255 743h3v1h-3zM419 743h1v1h-1zM453 743h1v1h-1zM507 743h1v1h-1zM945 743h1v1h-1zM1131 743h3v1h-3zM1223 743h1v1h-1zM51 744h3v1h-3zM75 744h3v1h-3zM261 744h1v1h-1zM417 744h2v1h-2zM508 744h2v1h-2zM574 744h2v1h-2zM946 744h2v1h-2zM1126 744h2v1h-2zM57 745h1v1h-1zM69 745h3v1h-3zM262 745h2v1h-2zM573 745h1v1h-1zM1119 745h3v1h-3zM1125 745h1v1h-1zM58 746h2v1h-2zM63 746h3v1h-3zM267 746h3v1h-3zM413 746h1v1h-1zM567 746h3v1h-3zM951 746h3v1h-3zM1113 746h3v1h-3zM273 747h1v1h-1zM411 747h2v1h-2zM513 747h1v1h-1zM1107 747h3v1h-3zM1226 747h1v1h-1zM274 748h2v1h-2zM514 748h1v1h-1zM562 748h2v1h-2zM957 748h2v1h-2zM1102 748h2v1h-2zM1227 748h1v1h-1zM279 749h3v1h-3zM515 749h1v1h-1zM561 749h1v1h-1zM959 749h1v1h-1zM1101 749h1v1h-1zM1228 749h1v1h-1zM285 750h1v1h-1zM407 750h1v1h-1zM557 750h1v1h-1zM963 750h3v1h-3zM1097 750h1v1h-1zM286 751h2v1h-2zM406 751h1v1h-1zM555 751h2v1h-2zM969 751h1v1h-1zM1095 751h2v1h-2zM405 752h1v1h-1zM519 752h1v1h-1zM551 752h1v1h-1zM970 752h2v1h-2zM291 753h1v1h-1zM520 753h2v1h-2zM549 753h2v1h-2zM975 753h3v1h-3zM981 753h1v1h-1zM1090 753h2v1h-2zM1230 753h1v1h-1zM292 754h2v1h-2zM982 754h2v1h-2zM987 754h3v1h-3zM993 754h1v1h-1zM1089 754h1v1h-1zM1231 754h1v1h-1zM525 755h1v1h-1zM545 755h1v1h-1zM994 755h2v1h-2zM1083 755h3v1h-3zM1232 755h1v1h-1zM401 756h1v1h-1zM526 756h2v1h-2zM543 756h2v1h-2zM999 756h3v1h-3zM1071 756h3v1h-3zM1077 756h3v1h-3zM297 757h2v1h-2zM339 757h3v1h-3zM345 757h1v1h-1zM400 757h1v1h-1zM531 757h3v1h-3zM537 757h3v1h-3zM1005 757h1v1h-1zM1065 757h3v1h-3zM299 758h1v1h-1zM334 758h2v1h-2zM346 758h2v1h-2zM399 758h1v1h-1zM1006 758h2v1h-2zM1054 758h2v1h-2zM1059 758h3v1h-3zM333 759h1v1h-1zM1047 759h3v1h-3zM1053 759h1v1h-1zM1234 759h1v2h-1zM303 760h2v1h-2zM329 760h1v1h-1zM351 760h2v1h-2zM1011 760h3v1h-3zM1043 760h1v1h-1zM305 761h1v1h-1zM327 761h2v1h-2zM353 761h1v1h-1zM1017 761h1v1h-1zM1041 761h2v1h-2zM1235 761h1v1h-1zM309 762h1v1h-1zM395 762h1v1h-1zM1018 762h2v1h-2zM310 763h2v1h-2zM322 763h2v1h-2zM357 763h1v1h-1zM394 763h1v1h-1zM1023 763h3v1h-3zM1029 763h3v1h-3zM1035 763h3v1h-3zM315 764h3v1h-3zM321 764h1v1h-1zM358 764h1v1h-1zM393 764h1v1h-1zM359 765h1v1h-1zM1238 765h1v2h-1zM363 767h1v1h-1zM388 767h2v1h-2zM1239 767h1v1h-1zM364 768h2v1h-2zM387 768h1v1h-1zM369 771h2v1h-2zM382 771h2v1h-2zM1241 771h1v1h-1zM371 772h1v1h-1zM381 772h1v1h-1zM1242 772h1v2h-1zM375 773h3v1h-3zM1246 777h1v1h-1zM1247 778h1v1h-1zM1248 779h1v1h-1zM1252 782h1v1h-1zM1253 783h2v1h-2zM1265 783h2v1h-2zM1264 784h1v1h-1zM1258 785h3v1h-3z" fill="#ff0000" shape-rendering="crispEdges"/>
<text x="1599" y="710" font-size="9.3" fill="#000">0.006167</text>
<text x="1599" y="740" font-size="9.3" fill="#000">0.00</text>
<text x="1599" y="799" font-size="9.3" fill="#000">-0.011531</text>
<text x="7.3" y="712" font-size="9.3" fill="#000" textLength="153.6" lengthAdjust="spacingAndGlyphs">MACD(12,26,9) -0.004320 -0.008085</text>
<path d="M6 31h7v1h-7zM7 32h5v1h-5zM8 33h3v1h-3zM9 34h1v1h-1z" fill="#000" shape-rendering="crispEdges"/>
<text x="18" y="36" font-size="9.3" fill="#000" textLength="64.7" lengthAdjust="spacingAndGlyphs">USDCHF,Daily</text>
<text x="89" y="36" font-size="9.3" fill="#000" textLength="140.8" lengthAdjust="spacingAndGlyphs">0.96469 0.96476 0.95904 0.95965</text>
<g shape-rendering="crispEdges" fill="#000">
<rect x="3" y="803" width="1" height="3"/>
<rect x="67" y="803" width="1" height="3"/>
<rect x="131" y="803" width="1" height="3"/>
<rect x="195" y="803" width="1" height="3"/>
<rect x="259" y="803" width="1" height="3"/>
<rect x="323" y="803" width="1" height="3"/>
<rect x="387" y="803" width="1" height="3"/>
<rect x="451" y="803" width="1" height="3"/>
<rect x="515" y="803" width="1" height="3"/>
<rect x="579" y="803" width="1" height="3"/>
<rect x="643" y="803" width="1" height="3"/>
<rect x="707" y="803" width="1" height="3"/>
<rect x="771" y="803" width="1" height="3"/>
<rect x="835" y="803" width="1" height="3"/>
<rect x="899" y="803" width="1" height="3"/>
<rect x="963" y="803" width="1" height="3"/>
<rect x="1027" y="803" width="1" height="3"/>
<rect x="1091" y="803" width="1" height="3"/>
<rect x="1155" y="803" width="1" height="3"/>
<rect x="1219" y="803" width="1" height="3"/>
</g>
<text x="2" y="815" font-size="9.3" fill="#000">15 Mar 2019</text>
<text x="66" y="815" font-size="9.3" fill="#000">3 Apr 2019</text>
<text x="130" y="815" font-size="9.3" fill="#000">22 Apr 2019</text>
<text x="194" y="815" font-size="9.3" fill="#000">10 May 2019</text>
<text x="258" y="815" font-size="9.3" fill="#000">29 May 2019</text>
<text x="322" y="815" font-size="9.3" fill="#000">17 Jun 2019</text>
<text x="386" y="815" font-size="9.3" fill="#000">5 Jul 2019</text>
<text x="450" y="815" font-size="9.3" fill="#000">24 Jul 2019</text>
<text x="514" y="815" font-size="9.3" fill="#000">12 Aug 2019</text>
<text x="578" y="815" font-size="9.3" fill="#000">30 Aug 2019</text>
<text x="642" y="815" font-size="9.3" fill="#000">18 Sep 2019</text>
<text x="706" y="815" font-size="9.3" fill="#000">7 Oct 2019</text>
<text x="770" y="815" font-size="9.3" fill="#000">25 Oct 2019</text>
<text x="834" y="815" font-size="9.3" fill="#000">13 Nov 2019</text>
<text x="898" y="815" font-size="9.3" fill="#000">2 Dec 2019</text>
<text x="962" y="815" font-size="9.3" fill="#000">20 Dec 2019</text>
<text x="1026" y="815" font-size="9.3" fill="#000">8 Jan 2020</text>
<text x="1090" y="815" font-size="9.3" fill="#000">27 Jan 2020</text>
<text x="1154" y="815" font-size="9.3" fill="#000">14 Feb 2020</text>
<text x="1218" y="815" font-size="9.3" fill="#000">4 Mar 2020</text>
<g shape-rendering="crispEdges">
<rect x="0" y="823" width="1638" height="1" fill="#e3e3e3"/>
<rect x="0" y="826" width="1638" height="1" fill="#fcfcfc"/><rect x="0" y="827" width="1638" height="18" fill="#f0f0f0"/>
<rect x="0" y="825" width="1638" height="1" fill="#000"/>
<rect x="108" y="825" width="100" height="19" fill="#fff"/>
<rect x="108" y="825" width="1" height="19" fill="#000"/><rect x="207" y="825" width="1" height="19" fill="#000"/><rect x="108" y="843" width="100" height="1" fill="#000"/>
<rect x="312" y="828" width="1" height="14" fill="#808080"/>
<rect x="416" y="828" width="1" height="14" fill="#808080"/>
<rect x="520" y="828" width="1" height="14" fill="#808080"/>
<rect x="624" y="828" width="1" height="14" fill="#808080"/>
<rect x="716" y="828" width="1" height="14" fill="#808080"/>
<rect x="812" y="828" width="1" height="14" fill="#808080"/>
<rect x="884" y="828" width="1" height="14" fill="#808080"/>
<rect x="964" y="828" width="1" height="14" fill="#808080"/>
<rect x="1044" y="828" width="1" height="14" fill="#808080"/>
<rect x="1124" y="828" width="1" height="14" fill="#808080"/>
<rect x="1200" y="828" width="1" height="14" fill="#808080"/>
</g>
<text x="16.0" y="840" font-size="12" fill="#707070" textLength="80.1" lengthAdjust="spacingAndGlyphs" style="stroke:none">EURUSD,Daily</text>
<text x="117.9" y="840" font-size="12" fill="#000" textLength="79.3" lengthAdjust="spacingAndGlyphs" style="stroke:none">USDCHF,Daily</text>
<text x="218.8" y="840" font-size="12" fill="#707070" textLength="82.3" lengthAdjust="spacingAndGlyphs" style="stroke:none">AUDUSD,Daily</text>
<text x="322.9" y="840" font-size="12" fill="#707070" textLength="81.1" lengthAdjust="spacingAndGlyphs" style="stroke:none">USDCAD,Daily</text>
<text x="425.8" y="840" font-size="12" fill="#707070" textLength="83.5" lengthAdjust="spacingAndGlyphs" style="stroke:none">USDCNH,Daily</text>
<text x="531.7" y="840" font-size="12" fill="#707070" textLength="80.5" lengthAdjust="spacingAndGlyphs" style="stroke:none">EURUSD,Daily</text>
<text x="635.8" y="840" font-size="12" fill="#707070" textLength="68.0" lengthAdjust="spacingAndGlyphs" style="stroke:none">GBPUSD,H1</text>
<text x="727.4" y="840" font-size="12" fill="#707070" textLength="72.0" lengthAdjust="spacingAndGlyphs" style="stroke:none">XAUUSD,M5</text>
<text x="822.8" y="840" font-size="12" fill="#707070" textLength="50.0" lengthAdjust="spacingAndGlyphs" style="stroke:none">HK50,H1</text>
<text x="894.9" y="840" font-size="12" fill="#707070" textLength="57.0" lengthAdjust="spacingAndGlyphs" style="stroke:none">UK100,H1</text>
<text x="974.7" y="840" font-size="12" fill="#707070" textLength="57.0" lengthAdjust="spacingAndGlyphs" style="stroke:none">UK100,H1</text>
<text x="1054.8" y="840" font-size="12" fill="#707070" textLength="57.0" lengthAdjust="spacingAndGlyphs" style="stroke:none">GER30,H1</text>
<text x="1133.9" y="840" font-size="12" fill="#707070" textLength="55.0" lengthAdjust="spacingAndGlyphs" style="stroke:none">FRA40,H1</text>
<path d="M1613 831h1v6h-1zM1612 832h1v4h-1zM1611 833h1v2h-1zM1630 831h1v6h-1zM1631 832h1v4h-1zM1632 833h1v2h-1z" fill="#8a8a8a" shape-rendering="crispEdges"/>
</svg>
</body></html>
